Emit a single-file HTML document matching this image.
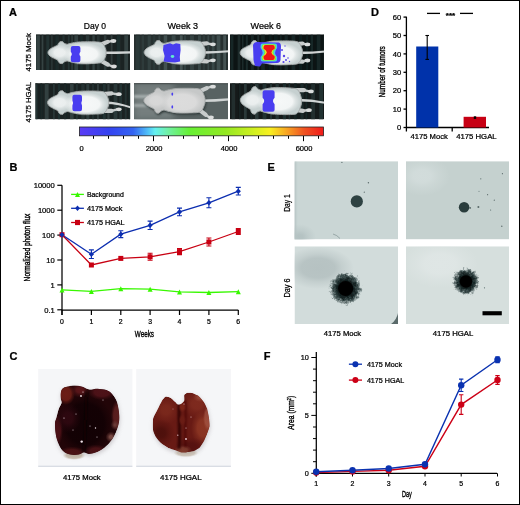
<!DOCTYPE html>
<html><head><meta charset="utf-8"><style>
html,body{margin:0;padding:0;background:#fff;}
svg{display:block;font-family:"Liberation Sans", Arial, Helvetica, sans-serif;}
text{stroke:#000;stroke-width:0.24px;}
</style></head><body>
<svg width="520" height="505" viewBox="0 0 520 505">
<defs>
<linearGradient id="cbar" x1="0" x2="1" y1="0" y2="0">
<stop offset="0" stop-color="#5a3cf5"/>
<stop offset="0.12" stop-color="#3442f0"/>
<stop offset="0.22" stop-color="#3464f2"/>
<stop offset="0.28" stop-color="#50c0f8"/>
<stop offset="0.31" stop-color="#64f0f0"/>
<stop offset="0.36" stop-color="#70f0a8"/>
<stop offset="0.45" stop-color="#66f034"/>
<stop offset="0.60" stop-color="#94e822"/>
<stop offset="0.72" stop-color="#d4f020"/>
<stop offset="0.78" stop-color="#f8f020"/>
<stop offset="0.85" stop-color="#f8a422"/>
<stop offset="0.92" stop-color="#f05422"/>
<stop offset="1" stop-color="#f01a1a"/>
</linearGradient>
<pattern id="stripes" patternUnits="userSpaceOnUse" width="6.5" height="10">
<rect width="6.5" height="10" fill="#1c2626"/>
<rect x="0.5" width="3" height="10" fill="#3e4c4c"/>
</pattern>
<filter id="b04" x="-10%" y="-10%" width="120%" height="120%"><feGaussianBlur stdDeviation="0.4"/></filter>
<filter id="b07" x="-10%" y="-10%" width="120%" height="120%"><feGaussianBlur stdDeviation="0.7 0.2"/></filter>
<filter id="b05" x="-10%" y="-10%" width="120%" height="120%"><feGaussianBlur stdDeviation="0.5"/></filter>
<filter id="b1" filterUnits="userSpaceOnUse" x="0" y="0" width="520" height="505"><feGaussianBlur stdDeviation="1"/></filter>
<filter id="b2" filterUnits="userSpaceOnUse" x="0" y="0" width="520" height="505"><feGaussianBlur stdDeviation="2"/></filter>
<filter id="b3" filterUnits="userSpaceOnUse" x="0" y="0" width="520" height="505"><feGaussianBlur stdDeviation="3"/></filter>
<filter id="spiky" x="-60%" y="-60%" width="220%" height="220%">
<feTurbulence type="fractalNoise" baseFrequency="0.35" numOctaves="2" seed="7" result="n"/>
<feDisplacementMap in="SourceGraphic" in2="n" scale="7" xChannelSelector="R" yChannelSelector="G" result="d"/>
<feGaussianBlur in="d" stdDeviation="0.45"/>
</filter>
<filter id="spiky2" x="-60%" y="-60%" width="220%" height="220%">
<feTurbulence type="fractalNoise" baseFrequency="0.35" numOctaves="2" seed="11" result="n"/>
<feDisplacementMap in="SourceGraphic" in2="n" scale="6" xChannelSelector="R" yChannelSelector="G" result="d"/>
<feGaussianBlur in="d" stdDeviation="0.45"/>
</filter>
<filter id="mottle" x="0" y="0" width="100%" height="100%">
<feTurbulence type="fractalNoise" baseFrequency="0.09" numOctaves="3" seed="4" result="n"/>
<feColorMatrix in="n" type="matrix" values="0 0 0 0 0.85  0 0 0 0 0.2  0 0 0 0 0.12  1.6 0 0 0 -0.75" result="c"/>
<feComposite in="c" in2="SourceGraphic" operator="in"/>
</filter>
<radialGradient id="halo1"><stop offset="0" stop-color="#050c0c"/><stop offset="0.55" stop-color="#142222"/><stop offset="0.75" stop-color="#2e4040" stop-opacity="0.9"/><stop offset="0.9" stop-color="#5a6a6a" stop-opacity="0.5"/><stop offset="1" stop-color="#8a9a9a" stop-opacity="0"/></radialGradient>
<radialGradient id="g0"><stop offset="0" stop-color="#f6f8f8" stop-opacity="1.0"/><stop offset="0.621" stop-color="#f6f8f8" stop-opacity="0.930"/><stop offset="0.763" stop-color="#f6f8f8" stop-opacity="0.500"/><stop offset="1" stop-color="#f6f8f8" stop-opacity="0"/></radialGradient><radialGradient id="g1"><stop offset="0" stop-color="#f6f8f8" stop-opacity="0.8"/><stop offset="0.448" stop-color="#f6f8f8" stop-opacity="0.744"/><stop offset="0.655" stop-color="#f6f8f8" stop-opacity="0.400"/><stop offset="1" stop-color="#f6f8f8" stop-opacity="0"/></radialGradient><radialGradient id="g2"><stop offset="0" stop-color="#f6f8f8" stop-opacity="1.0"/><stop offset="0.636" stop-color="#f6f8f8" stop-opacity="0.930"/><stop offset="0.773" stop-color="#f6f8f8" stop-opacity="0.500"/><stop offset="1" stop-color="#f6f8f8" stop-opacity="0"/></radialGradient><radialGradient id="g3"><stop offset="0" stop-color="#f6f8f8" stop-opacity="0.8"/><stop offset="0.467" stop-color="#f6f8f8" stop-opacity="0.744"/><stop offset="0.667" stop-color="#f6f8f8" stop-opacity="0.400"/><stop offset="1" stop-color="#f6f8f8" stop-opacity="0"/></radialGradient><radialGradient id="g4"><stop offset="0" stop-color="#f6f8f8" stop-opacity="1.0"/><stop offset="0.641" stop-color="#f6f8f8" stop-opacity="0.930"/><stop offset="0.776" stop-color="#f6f8f8" stop-opacity="0.500"/><stop offset="1" stop-color="#f6f8f8" stop-opacity="0"/></radialGradient><radialGradient id="g5"><stop offset="0" stop-color="#f6f8f8" stop-opacity="0.8"/><stop offset="0.475" stop-color="#f6f8f8" stop-opacity="0.744"/><stop offset="0.672" stop-color="#f6f8f8" stop-opacity="0.400"/><stop offset="1" stop-color="#f6f8f8" stop-opacity="0"/></radialGradient><radialGradient id="g6"><stop offset="0" stop-color="#f6f8f8" stop-opacity="1.0"/><stop offset="0.636" stop-color="#f6f8f8" stop-opacity="0.930"/><stop offset="0.773" stop-color="#f6f8f8" stop-opacity="0.500"/><stop offset="1" stop-color="#f6f8f8" stop-opacity="0"/></radialGradient><radialGradient id="g7"><stop offset="0" stop-color="#f6f8f8" stop-opacity="0.8"/><stop offset="0.467" stop-color="#f6f8f8" stop-opacity="0.744"/><stop offset="0.667" stop-color="#f6f8f8" stop-opacity="0.400"/><stop offset="1" stop-color="#f6f8f8" stop-opacity="0"/></radialGradient><radialGradient id="g8"><stop offset="0" stop-color="#dcdcdc" stop-opacity="1.0"/><stop offset="0.636" stop-color="#dcdcdc" stop-opacity="0.930"/><stop offset="0.773" stop-color="#dcdcdc" stop-opacity="0.500"/><stop offset="1" stop-color="#dcdcdc" stop-opacity="0"/></radialGradient><radialGradient id="g9"><stop offset="0" stop-color="#dcdcdc" stop-opacity="0.8"/><stop offset="0.467" stop-color="#dcdcdc" stop-opacity="0.744"/><stop offset="0.667" stop-color="#dcdcdc" stop-opacity="0.400"/><stop offset="1" stop-color="#dcdcdc" stop-opacity="0"/></radialGradient><radialGradient id="g10"><stop offset="0" stop-color="#f6f8f8" stop-opacity="1.0"/><stop offset="0.636" stop-color="#f6f8f8" stop-opacity="0.930"/><stop offset="0.773" stop-color="#f6f8f8" stop-opacity="0.500"/><stop offset="1" stop-color="#f6f8f8" stop-opacity="0"/></radialGradient><radialGradient id="g11"><stop offset="0" stop-color="#f6f8f8" stop-opacity="0.8"/><stop offset="0.467" stop-color="#f6f8f8" stop-opacity="0.744"/><stop offset="0.667" stop-color="#f6f8f8" stop-opacity="0.400"/><stop offset="1" stop-color="#f6f8f8" stop-opacity="0"/></radialGradient><radialGradient id="g12"><stop offset="0" stop-color="#b4c2c2" stop-opacity="1.0"/><stop offset="0.200" stop-color="#b4c2c2" stop-opacity="0.930"/><stop offset="0.500" stop-color="#b4c2c2" stop-opacity="0.500"/><stop offset="1" stop-color="#b4c2c2" stop-opacity="0"/></radialGradient><radialGradient id="g13"><stop offset="0" stop-color="#d2dcdb" stop-opacity="1.0"/><stop offset="0.314" stop-color="#d2dcdb" stop-opacity="0.930"/><stop offset="0.571" stop-color="#d2dcdb" stop-opacity="0.500"/><stop offset="1" stop-color="#d2dcdb" stop-opacity="0"/></radialGradient><radialGradient id="g14"><stop offset="0" stop-color="#b6c2c2" stop-opacity="1.0"/><stop offset="0.467" stop-color="#b6c2c2" stop-opacity="0.930"/><stop offset="0.667" stop-color="#b6c2c2" stop-opacity="0.500"/><stop offset="1" stop-color="#b6c2c2" stop-opacity="0"/></radialGradient><radialGradient id="g15"><stop offset="0" stop-color="#dfe6e5" stop-opacity="1.0"/><stop offset="0.411" stop-color="#dfe6e5" stop-opacity="0.930"/><stop offset="0.632" stop-color="#dfe6e5" stop-opacity="0.500"/><stop offset="1" stop-color="#dfe6e5" stop-opacity="0"/></radialGradient><radialGradient id="g16"><stop offset="0" stop-color="#a08868" stop-opacity="0.5"/><stop offset="0.663" stop-color="#a08868" stop-opacity="0.465"/><stop offset="0.789" stop-color="#a08868" stop-opacity="0.250"/><stop offset="1" stop-color="#a08868" stop-opacity="0"/></radialGradient><radialGradient id="g17"><stop offset="0" stop-color="#120104" stop-opacity="1.0"/><stop offset="0.680" stop-color="#120104" stop-opacity="0.930"/><stop offset="0.800" stop-color="#120104" stop-opacity="0.500"/><stop offset="1" stop-color="#120104" stop-opacity="0"/></radialGradient><radialGradient id="g18"><stop offset="0" stop-color="#6c1e16" stop-opacity="1.0"/><stop offset="0.564" stop-color="#6c1e16" stop-opacity="0.930"/><stop offset="0.727" stop-color="#6c1e16" stop-opacity="0.500"/><stop offset="1" stop-color="#6c1e16" stop-opacity="0"/></radialGradient><radialGradient id="g19"><stop offset="0" stop-color="#5a161a" stop-opacity="1.0"/><stop offset="0.360" stop-color="#5a161a" stop-opacity="0.930"/><stop offset="0.600" stop-color="#5a161a" stop-opacity="0.500"/><stop offset="1" stop-color="#5a161a" stop-opacity="0"/></radialGradient><radialGradient id="g20"><stop offset="0" stop-color="#4e1218" stop-opacity="1.0"/><stop offset="0.543" stop-color="#4e1218" stop-opacity="0.930"/><stop offset="0.714" stop-color="#4e1218" stop-opacity="0.500"/><stop offset="1" stop-color="#4e1218" stop-opacity="0"/></radialGradient><radialGradient id="g21"><stop offset="0" stop-color="#5a1e1e" stop-opacity="1.0"/><stop offset="0.600" stop-color="#5a1e1e" stop-opacity="0.930"/><stop offset="0.750" stop-color="#5a1e1e" stop-opacity="0.500"/><stop offset="1" stop-color="#5a1e1e" stop-opacity="0"/></radialGradient><radialGradient id="g22"><stop offset="0" stop-color="#7a4a44" stop-opacity="1.0"/><stop offset="0.289" stop-color="#7a4a44" stop-opacity="0.930"/><stop offset="0.556" stop-color="#7a4a44" stop-opacity="0.500"/><stop offset="1" stop-color="#7a4a44" stop-opacity="0"/></radialGradient><radialGradient id="g23"><stop offset="0" stop-color="#6a3a36" stop-opacity="1.0"/><stop offset="0.216" stop-color="#6a3a36" stop-opacity="0.930"/><stop offset="0.510" stop-color="#6a3a36" stop-opacity="0.500"/><stop offset="1" stop-color="#6a3a36" stop-opacity="0"/></radialGradient><radialGradient id="g24"><stop offset="0" stop-color="#4a1016" stop-opacity="1.0"/><stop offset="0.600" stop-color="#4a1016" stop-opacity="0.930"/><stop offset="0.750" stop-color="#4a1016" stop-opacity="0.500"/><stop offset="1" stop-color="#4a1016" stop-opacity="0"/></radialGradient><radialGradient id="g25"><stop offset="0" stop-color="#4a1214" stop-opacity="1.0"/><stop offset="0.543" stop-color="#4a1214" stop-opacity="0.930"/><stop offset="0.714" stop-color="#4a1214" stop-opacity="0.500"/><stop offset="1" stop-color="#4a1214" stop-opacity="0"/></radialGradient><radialGradient id="g26"><stop offset="0" stop-color="#4a1216" stop-opacity="1.0"/><stop offset="0.467" stop-color="#4a1216" stop-opacity="0.930"/><stop offset="0.667" stop-color="#4a1216" stop-opacity="0.500"/><stop offset="1" stop-color="#4a1216" stop-opacity="0"/></radialGradient><radialGradient id="g27"><stop offset="0" stop-color="#2e0810" stop-opacity="1.0"/><stop offset="0.360" stop-color="#2e0810" stop-opacity="0.930"/><stop offset="0.600" stop-color="#2e0810" stop-opacity="0.500"/><stop offset="1" stop-color="#2e0810" stop-opacity="0"/></radialGradient><radialGradient id="g28"><stop offset="0" stop-color="#a08868" stop-opacity="0.4"/><stop offset="0.690" stop-color="#a08868" stop-opacity="0.372"/><stop offset="0.806" stop-color="#a08868" stop-opacity="0.200"/><stop offset="1" stop-color="#a08868" stop-opacity="0"/></radialGradient><radialGradient id="g29"><stop offset="0" stop-color="#7a281c" stop-opacity="1.0"/><stop offset="0.314" stop-color="#7a281c" stop-opacity="0.930"/><stop offset="0.571" stop-color="#7a281c" stop-opacity="0.500"/><stop offset="1" stop-color="#7a281c" stop-opacity="0"/></radialGradient><radialGradient id="g30"><stop offset="0" stop-color="#7e2a1e" stop-opacity="1.0"/><stop offset="0.360" stop-color="#7e2a1e" stop-opacity="0.930"/><stop offset="0.600" stop-color="#7e2a1e" stop-opacity="0.500"/><stop offset="1" stop-color="#7e2a1e" stop-opacity="0"/></radialGradient><radialGradient id="g31"><stop offset="0" stop-color="#8a3422" stop-opacity="1.0"/><stop offset="0.467" stop-color="#8a3422" stop-opacity="0.930"/><stop offset="0.667" stop-color="#8a3422" stop-opacity="0.500"/><stop offset="1" stop-color="#8a3422" stop-opacity="0"/></radialGradient><radialGradient id="g32"><stop offset="0" stop-color="#4e100c" stop-opacity="1.0"/><stop offset="0.314" stop-color="#4e100c" stop-opacity="0.930"/><stop offset="0.571" stop-color="#4e100c" stop-opacity="0.500"/><stop offset="1" stop-color="#4e100c" stop-opacity="0"/></radialGradient><radialGradient id="g33"><stop offset="0" stop-color="#561210" stop-opacity="1.0"/><stop offset="0.400" stop-color="#561210" stop-opacity="0.930"/><stop offset="0.625" stop-color="#561210" stop-opacity="0.500"/><stop offset="1" stop-color="#561210" stop-opacity="0"/></radialGradient><radialGradient id="g34"><stop offset="0" stop-color="#a85a48" stop-opacity="0.7"/><stop offset="0.631" stop-color="#a85a48" stop-opacity="0.651"/><stop offset="0.769" stop-color="#a85a48" stop-opacity="0.350"/><stop offset="1" stop-color="#a85a48" stop-opacity="0"/></radialGradient><radialGradient id="g35"><stop offset="0" stop-color="#a85a48" stop-opacity="0.6"/><stop offset="0.314" stop-color="#a85a48" stop-opacity="0.558"/><stop offset="0.571" stop-color="#a85a48" stop-opacity="0.300"/><stop offset="1" stop-color="#a85a48" stop-opacity="0"/></radialGradient><radialGradient id="g36"><stop offset="0" stop-color="#a06048" stop-opacity="0.5"/><stop offset="0.467" stop-color="#a06048" stop-opacity="0.465"/><stop offset="0.667" stop-color="#a06048" stop-opacity="0.250"/><stop offset="1" stop-color="#a06048" stop-opacity="0"/></radialGradient><radialGradient id="g37"><stop offset="0" stop-color="#7a2418" stop-opacity="1.0"/><stop offset="0.418" stop-color="#7a2418" stop-opacity="0.930"/><stop offset="0.636" stop-color="#7a2418" stop-opacity="0.500"/><stop offset="1" stop-color="#7a2418" stop-opacity="0"/></radialGradient><radialGradient id="g38"><stop offset="0" stop-color="#6a1c14" stop-opacity="1.0"/><stop offset="0.467" stop-color="#6a1c14" stop-opacity="0.930"/><stop offset="0.667" stop-color="#6a1c14" stop-opacity="0.500"/><stop offset="1" stop-color="#6a1c14" stop-opacity="0"/></radialGradient>
</defs>
<rect x="0.5" y="0.5" width="519" height="504" fill="#fff" stroke="#000" stroke-width="1"/>
<text x="9" y="15.7" font-size="11" text-anchor="start" font-weight="bold" fill="#000" >A</text>
<text x="83.8" y="29.2" font-size="9.8" text-anchor="start" font-weight="normal" fill="#000" textLength="22.3" lengthAdjust="spacingAndGlyphs" >Day 0</text>
<text x="167.5" y="29.2" font-size="9.8" text-anchor="start" font-weight="normal" fill="#000" textLength="30.5" lengthAdjust="spacingAndGlyphs" >Week 3</text>
<text x="250.6" y="29.2" font-size="9.8" text-anchor="start" font-weight="normal" fill="#000" textLength="30.5" lengthAdjust="spacingAndGlyphs" >Week 6</text>
<text transform="translate(31.1,52.4) rotate(-90)" x="0" y="0" font-size="7.7" text-anchor="middle" fill="#000" textLength="38.4" lengthAdjust="spacingAndGlyphs" >4175 Mock</text>
<text transform="translate(31.1,102.2) rotate(-90)" x="0" y="0" font-size="7.7" text-anchor="middle" fill="#000" textLength="40.6" lengthAdjust="spacingAndGlyphs" >4175 HGAL</text>
<clipPath id="c36_34"><rect x="36" y="34.5" width="94" height="35.5"/></clipPath>
<g clip-path="url(#c36_34)">
<rect x="36" y="34.5" width="94" height="35.5" fill="#1a2222"/><g filter="url(#b07)"><rect x="36.3" y="34.5" width="3.6" height="35.5" fill="rgb(52,66,66)"/><rect x="41.6" y="34.5" width="1.8" height="35.5" fill="rgb(52,66,66)"/><rect x="46.2" y="34.5" width="3.1" height="35.5" fill="rgb(34,48,48)"/><rect x="51.1" y="34.5" width="1.6" height="35.5" fill="rgb(40,54,54)"/><rect x="55.5" y="34.5" width="3.4" height="35.5" fill="rgb(28,42,42)"/><rect x="62.5" y="34.5" width="2.2" height="35.5" fill="rgb(35,49,49)"/><rect x="67.9" y="34.5" width="1.8" height="35.5" fill="rgb(38,52,52)"/><rect x="71.3" y="34.5" width="1.6" height="35.5" fill="rgb(45,59,59)"/><rect x="74.4" y="34.5" width="3.7" height="35.5" fill="rgb(49,63,63)"/><rect x="80.2" y="34.5" width="2.6" height="35.5" fill="rgb(28,42,42)"/><rect x="85.9" y="34.5" width="3.4" height="35.5" fill="rgb(43,57,57)"/><rect x="92.4" y="34.5" width="2.4" height="35.5" fill="rgb(49,63,63)"/><rect x="97.0" y="34.5" width="2.6" height="35.5" fill="rgb(37,51,51)"/><rect x="103.9" y="34.5" width="2.5" height="35.5" fill="rgb(45,59,59)"/><rect x="110.7" y="34.5" width="1.8" height="35.5" fill="rgb(48,62,62)"/><rect x="116.9" y="34.5" width="3.6" height="35.5" fill="rgb(31,45,45)"/><rect x="124.3" y="34.5" width="3.7" height="35.5" fill="rgb(50,64,64)"/></g>
<g filter="url(#b04)">
<path d="M102.2,51.4 Q116.6,51.5 131,51.3 L131,53.4 Q116.6,53.9 102.2,54.1Z" fill="#d0d4d4"/>
<path d="M100.3,44.8 L107.6,41.9" stroke="#c8cccc" stroke-width="4.2" fill="none" stroke-linecap="round"/>
<path d="M107.6,41.9 L112.0,41.0" stroke="#c8cccc" stroke-width="2.4" fill="none" stroke-linecap="round"/>
<ellipse cx="113.5" cy="41.0" rx="2.8" ry="1.9" fill="#dadcdc"/>
<path d="M100.3,60.4 L107.9,64.6" stroke="#c8cccc" stroke-width="4.2" fill="none" stroke-linecap="round"/>
<path d="M107.9,64.6 L112.5,66.5" stroke="#c8cccc" stroke-width="2.4" fill="none" stroke-linecap="round"/>
<ellipse cx="114.0" cy="66.5" rx="2.8" ry="1.9" fill="#dadcdc"/>
<path d="M48.1,51.6 C48.3,51.2 49.4,49.6 50.0,49.2 C50.6,48.7 53.0,47.6 53.8,47.2 C54.6,46.8 57.1,45.6 57.6,45.2 C58.1,44.9 58.3,43.6 58.5,43.3 C58.8,42.9 59.6,42.0 60.0,41.8 C60.4,41.7 61.9,41.5 62.4,41.6 C62.8,41.8 63.8,43.0 64.2,43.3 C64.7,43.6 66.4,44.3 67.1,44.3 C67.8,44.3 69.8,43.5 70.9,43.3 C72.0,43.1 76.6,42.2 78.5,42.0 C80.4,41.9 88.0,41.8 89.9,41.8 C91.8,41.8 96.4,41.9 97.5,42.0 C98.6,42.1 100.7,42.3 101.3,42.6 C101.9,42.9 103.3,44.2 103.7,44.8 C104.1,45.3 105.1,47.6 105.3,48.2 C105.5,48.8 106.0,50.0 106.0,50.6 C106.1,51.3 106.1,53.9 106.0,54.6 C106.0,55.2 105.5,56.4 105.3,57.0 C105.1,57.6 104.1,59.9 103.7,60.4 C103.3,61.0 101.9,62.3 101.3,62.6 C100.7,62.9 98.6,63.1 97.5,63.2 C96.4,63.3 91.8,63.4 89.9,63.4 C88.0,63.4 80.4,63.3 78.5,63.2 C76.6,63.0 72.0,62.1 70.9,61.9 C69.8,61.7 67.8,60.9 67.1,60.9 C66.4,60.9 64.7,61.6 64.2,61.9 C63.8,62.2 62.8,63.4 62.4,63.6 C61.9,63.7 60.4,63.5 60.0,63.4 C59.6,63.2 58.8,62.3 58.5,61.9 C58.3,61.6 58.1,60.3 57.6,60.0 C57.1,59.6 54.6,58.4 53.8,58.0 C53.0,57.6 50.6,56.5 50.0,56.0 C49.4,55.6 48.3,54.0 48.1,53.6 C47.9,53.1 47.9,52.1 48.1,51.6Z" fill="#c6d0d0" stroke="#a4a8a8" stroke-width="1.0"/>
</g>
<ellipse cx="84.2" cy="54.1" rx="21.10" ry="11.40" fill="url(#g0)"/>
<ellipse cx="59.5" cy="52.6" rx="11.60" ry="8.40" fill="url(#g1)"/>
<path d="M70.8,48.1 Q70.8,46.1 72.8,46.1 L78.4,46.1 Q80.4,46.1 80.4,48.1 L80.4,51.8 Q78.4,54.2 80.4,56.6 L80.4,60.3 Q80.4,62.3 78.4,62.3 L72.8,62.3 Q70.8,62.3 70.8,60.3 L70.8,56.6 Q72.8,54.2 70.8,51.8Z" fill="#4a3ef0" filter="url(#b04)"/>
</g>
<rect x="36" y="34.5" width="94" height="0.8" fill="#0a0e0e" opacity="0.7"/>
<clipPath id="c134_34"><rect x="134" y="34.5" width="94" height="35.5"/></clipPath>
<g clip-path="url(#c134_34)">
<rect x="134" y="34.5" width="94" height="35.5" fill="#263030"/><g filter="url(#b07)"><rect x="135.9" y="34.5" width="3.9" height="35.5" fill="rgb(41,55,55)"/><rect x="141.6" y="34.5" width="2.4" height="35.5" fill="rgb(45,59,59)"/><rect x="147.7" y="34.5" width="3.2" height="35.5" fill="rgb(49,63,63)"/><rect x="153.1" y="34.5" width="2.0" height="35.5" fill="rgb(41,55,55)"/><rect x="158.4" y="34.5" width="1.9" height="35.5" fill="rgb(53,67,67)"/><rect x="163.7" y="34.5" width="3.5" height="35.5" fill="rgb(67,81,81)"/><rect x="171.7" y="34.5" width="3.9" height="35.5" fill="rgb(57,71,71)"/><rect x="179.9" y="34.5" width="2.8" height="35.5" fill="rgb(68,82,82)"/><rect x="184.2" y="34.5" width="1.6" height="35.5" fill="rgb(54,68,68)"/><rect x="190.1" y="34.5" width="3.8" height="35.5" fill="rgb(53,67,67)"/><rect x="198.0" y="34.5" width="2.8" height="35.5" fill="rgb(57,71,71)"/><rect x="202.9" y="34.5" width="2.1" height="35.5" fill="rgb(45,59,59)"/><rect x="207.4" y="34.5" width="1.8" height="35.5" fill="rgb(56,70,70)"/><rect x="211.8" y="34.5" width="2.8" height="35.5" fill="rgb(57,71,71)"/><rect x="216.7" y="34.5" width="3.7" height="35.5" fill="rgb(65,79,79)"/><rect x="223.2" y="34.5" width="2.8" height="35.5" fill="rgb(69,83,83)"/></g>
<g filter="url(#b04)">
<path d="M201.3,51.199999999999996 Q215.2,51.3 229,50.2 L229,52.300000000000004 Q215.2,53.699999999999996 201.3,53.9Z" fill="#d0d4d4"/>
<path d="M199.3,44.0 L206.8,43.4" stroke="#c8cccc" stroke-width="4.2" fill="none" stroke-linecap="round"/>
<path d="M206.8,43.4 L211.5,44.3" stroke="#c8cccc" stroke-width="2.4" fill="none" stroke-linecap="round"/>
<ellipse cx="213.0" cy="44.3" rx="2.8" ry="1.9" fill="#dadcdc"/>
<path d="M199.3,60.8 L206.8,61.3" stroke="#c8cccc" stroke-width="4.2" fill="none" stroke-linecap="round"/>
<path d="M206.8,61.3 L211.5,60.3" stroke="#c8cccc" stroke-width="2.4" fill="none" stroke-linecap="round"/>
<ellipse cx="213.0" cy="60.3" rx="2.8" ry="1.9" fill="#dadcdc"/>
<path d="M144.3,51.4 C144.5,50.9 145.7,49.2 146.3,48.7 C146.9,48.3 149.5,47.0 150.3,46.6 C151.1,46.2 153.8,44.9 154.3,44.5 C154.8,44.1 155.1,42.8 155.3,42.4 C155.6,42.1 156.4,41.0 156.8,40.8 C157.2,40.7 158.9,40.5 159.3,40.6 C159.8,40.8 160.8,42.1 161.3,42.4 C161.8,42.7 163.6,43.5 164.3,43.5 C165.0,43.5 167.1,42.7 168.3,42.4 C169.5,42.2 174.3,41.2 176.3,41.1 C178.3,40.9 186.3,40.8 188.3,40.8 C190.3,40.8 195.1,41.0 196.3,41.1 C197.5,41.1 199.7,41.4 200.3,41.7 C201.0,42.0 202.4,43.4 202.8,44.0 C203.2,44.6 204.2,47.0 204.5,47.7 C204.8,48.3 205.2,49.6 205.3,50.3 C205.4,51.0 205.4,53.8 205.3,54.5 C205.2,55.2 204.8,56.5 204.5,57.1 C204.2,57.8 203.2,60.2 202.8,60.8 C202.4,61.4 201.0,62.8 200.3,63.1 C199.7,63.4 197.5,63.7 196.3,63.7 C195.1,63.8 190.3,64.0 188.3,64.0 C186.3,64.0 178.3,63.9 176.3,63.7 C174.3,63.6 169.5,62.6 168.3,62.4 C167.1,62.1 165.0,61.3 164.3,61.3 C163.6,61.3 161.8,62.1 161.3,62.4 C160.8,62.7 159.8,64.0 159.3,64.2 C158.9,64.3 157.2,64.1 156.8,64.0 C156.4,63.8 155.6,62.7 155.3,62.4 C155.1,62.0 154.8,60.7 154.3,60.3 C153.8,59.9 151.1,58.6 150.3,58.2 C149.5,57.8 146.9,56.5 146.3,56.1 C145.7,55.6 144.5,53.9 144.3,53.4 C144.1,53.0 144.1,51.8 144.3,51.4Z" fill="#c6d0d0" stroke="#a4a8a8" stroke-width="1.0"/>
</g>
<ellipse cx="182.3" cy="53.9" rx="22.00" ry="11.80" fill="url(#g2)"/>
<ellipse cx="156.3" cy="52.4" rx="12.00" ry="8.70" fill="url(#g3)"/>
<path d="M163.5,45 L170,43.3 L173,44.6 L176,43.2 L180.3,44 L180.6,50 L179.8,57 L180.2,61.5 L175,62.4 L168,62.1 L163.6,61.6 L164.6,56 L163,50 Z" fill="#4a3ef0" filter="url(#b04)"/>
<ellipse cx="172.5" cy="56.5" rx="1.8" ry="1.4" fill="#5ee8d0" filter="url(#b04)"/>
</g>
<rect x="134" y="34.5" width="94" height="0.8" fill="#0a0e0e" opacity="0.7"/>
<clipPath id="c230_34"><rect x="230" y="34.5" width="94" height="35.5"/></clipPath>
<g clip-path="url(#c230_34)">
<rect x="230" y="34.5" width="94" height="35.5" fill="#0c1414"/><g filter="url(#b07)"><rect x="230.5" y="34.5" width="2.9" height="35.5" fill="rgb(23,37,37)"/><rect x="237.6" y="34.5" width="2.7" height="35.5" fill="rgb(30,44,44)"/><rect x="242.0" y="34.5" width="1.5" height="35.5" fill="rgb(27,41,41)"/><rect x="245.8" y="34.5" width="2.1" height="35.5" fill="rgb(27,41,41)"/><rect x="251.0" y="34.5" width="2.9" height="35.5" fill="rgb(24,38,38)"/><rect x="257.3" y="34.5" width="1.9" height="35.5" fill="rgb(32,46,46)"/><rect x="261.1" y="34.5" width="3.8" height="35.5" fill="rgb(24,38,38)"/><rect x="268.6" y="34.5" width="3.2" height="35.5" fill="rgb(14,28,28)"/><rect x="273.8" y="34.5" width="3.9" height="35.5" fill="rgb(13,27,27)"/><rect x="280.1" y="34.5" width="1.6" height="35.5" fill="rgb(20,34,34)"/><rect x="284.6" y="34.5" width="3.3" height="35.5" fill="rgb(24,38,38)"/><rect x="291.5" y="34.5" width="3.8" height="35.5" fill="rgb(24,38,38)"/><rect x="299.0" y="34.5" width="2.9" height="35.5" fill="rgb(16,30,30)"/><rect x="306.1" y="34.5" width="1.7" height="35.5" fill="rgb(16,30,30)"/><rect x="310.8" y="34.5" width="2.1" height="35.5" fill="rgb(25,39,39)"/><rect x="316.8" y="34.5" width="3.6" height="35.5" fill="rgb(25,39,39)"/><rect x="323.5" y="34.5" width="2.5" height="35.5" fill="rgb(23,37,37)"/></g>
<g filter="url(#b04)">
<path d="M298.4,51.599999999999994 Q311.7,51.699999999999996 325,50.4 L325,52.5 Q311.7,54.099999999999994 298.4,54.3Z" fill="#d0d4d4"/>
<path d="M296.4,44.2 L302.5,43.5" stroke="#c8cccc" stroke-width="4.2" fill="none" stroke-linecap="round"/>
<path d="M302.5,43.5 L306.0,44.4" stroke="#c8cccc" stroke-width="2.4" fill="none" stroke-linecap="round"/>
<ellipse cx="307.5" cy="44.4" rx="2.8" ry="1.9" fill="#dadcdc"/>
<path d="M296.4,61.4 L302.5,61.7" stroke="#c8cccc" stroke-width="4.2" fill="none" stroke-linecap="round"/>
<path d="M302.5,61.7 L306.0,60.5" stroke="#c8cccc" stroke-width="2.4" fill="none" stroke-linecap="round"/>
<ellipse cx="307.5" cy="60.5" rx="2.8" ry="1.9" fill="#dadcdc"/>
<path d="M240.3,51.7 C240.5,51.2 241.7,49.5 242.3,49.0 C243.0,48.5 245.6,47.3 246.4,46.9 C247.2,46.4 250.0,45.1 250.5,44.7 C251.0,44.3 251.3,42.9 251.5,42.5 C251.8,42.2 252.6,41.1 253.1,40.9 C253.5,40.7 255.1,40.5 255.6,40.7 C256.1,40.9 257.1,42.2 257.6,42.5 C258.1,42.8 260.0,43.6 260.7,43.6 C261.4,43.6 263.6,42.8 264.8,42.5 C266.0,42.3 270.9,41.3 272.9,41.1 C275.0,41.0 283.1,40.9 285.2,40.9 C287.2,40.9 292.1,41.0 293.3,41.1 C294.6,41.2 296.8,41.5 297.4,41.8 C298.1,42.1 299.5,43.5 300.0,44.2 C300.4,44.8 301.4,47.3 301.7,47.9 C302.0,48.6 302.4,49.9 302.5,50.6 C302.6,51.3 302.6,54.3 302.5,55.0 C302.4,55.7 302.0,57.0 301.7,57.7 C301.4,58.3 300.4,60.8 300.0,61.4 C299.5,62.1 298.1,63.5 297.4,63.8 C296.8,64.1 294.6,64.4 293.3,64.5 C292.1,64.6 287.2,64.7 285.2,64.7 C283.1,64.7 275.0,64.6 272.9,64.5 C270.9,64.3 266.0,63.3 264.8,63.1 C263.6,62.8 261.4,62.0 260.7,62.0 C260.0,62.0 258.1,62.8 257.6,63.1 C257.1,63.4 256.1,64.7 255.6,64.9 C255.1,65.1 253.5,64.9 253.1,64.7 C252.6,64.5 251.8,63.4 251.5,63.1 C251.3,62.7 251.0,61.3 250.5,60.9 C250.0,60.5 247.2,59.2 246.4,58.7 C245.6,58.3 243.0,57.1 242.3,56.6 C241.7,56.1 240.5,54.4 240.3,53.9 C240.1,53.4 240.1,52.2 240.3,51.7Z" fill="#c6d0d0" stroke="#a4a8a8" stroke-width="1.0"/>
</g>
<ellipse cx="279.1" cy="54.3" rx="22.30" ry="12.00" fill="url(#g4)"/>
<ellipse cx="252.5" cy="52.8" rx="12.20" ry="8.90" fill="url(#g5)"/>
<path d="M253,45 Q254,42 257,42 L279,42.5 Q281,43 281,46 L280.5,60 Q280,63 277,63 L262,63.5 L260,66.5 L255,66 L253.5,60 Z" fill="#4a3ef0" filter="url(#b04)"/>
<circle cx="282" cy="50" r="1" fill="#5a48e8"/><circle cx="284" cy="56" r="1.2" fill="#5a48e8"/><circle cx="286" cy="60" r="1" fill="#5a48e8"/><circle cx="283.5" cy="62" r="1.1" fill="#5a48e8"/><circle cx="288" cy="58" r="0.8" fill="#5a48e8"/><circle cx="285" cy="46" r="0.7" fill="#5a48e8"/><circle cx="289.5" cy="61.5" r="0.7" fill="#5a48e8"/>
<path d="M260.6,45.6 Q260.6,43.6 262.6,43.6 L275.1,43.6 Q277.1,43.6 277.1,45.6 L277.1,48.0 Q273.1,52.5 277.1,57.0 L277.1,59.4 Q277.1,61.4 275.1,61.4 L262.6,61.4 Q260.6,61.4 260.6,59.4 L260.6,57.0 Q264.6,52.5 260.6,48.0Z" fill="#48c8f0" filter="url(#b04)"/>
<path d="M261.8,46.3 Q261.8,44.3 263.8,44.3 L274.0,44.3 Q276.0,44.3 276.0,46.3 L276.0,48.4 Q271.0,52.5 276.0,56.6 L276.0,58.7 Q276.0,60.7 274.0,60.7 L263.8,60.7 Q261.8,60.7 261.8,58.7 L261.8,56.6 Q266.8,52.5 261.8,48.4Z" fill="#70f048" filter="url(#b04)"/>
<path d="M262.6,46.7 Q262.6,44.7 264.6,44.7 L273.2,44.7 Q275.2,44.7 275.2,46.7 L275.2,48.6 Q269.4,52.5 275.2,56.4 L275.2,58.3 Q275.2,60.3 273.2,60.3 L264.6,60.3 Q262.6,60.3 262.6,58.3 L262.6,56.4 Q268.4,52.5 262.6,48.6Z" fill="#f0f020" filter="url(#b04)"/>
<path d="M263.5,47.0 Q263.5,45.0 265.5,45.0 L272.7,45.0 Q274.7,45.0 274.7,47.0 L274.7,48.8 Q268.1,52.5 274.7,56.2 L274.7,58.0 Q274.7,60.0 272.7,60.0 L265.5,60.0 Q263.5,60.0 263.5,58.0 L263.5,56.2 Q270.1,52.5 263.5,48.8Z" fill="#f01414" filter="url(#b04)"/>
</g>
<rect x="230" y="34.5" width="94" height="0.8" fill="#0a0e0e" opacity="0.7"/>
<clipPath id="c35_83"><rect x="35.2" y="83.3" width="95" height="36.1"/></clipPath>
<g clip-path="url(#c35_83)">
<rect x="35.2" y="83.3" width="95" height="36.1" fill="#1a2222"/><g filter="url(#b07)"><rect x="35.7" y="83.3" width="1.8" height="36.1" fill="rgb(38,52,52)"/><rect x="40.4" y="83.3" width="1.7" height="36.1" fill="rgb(26,40,40)"/><rect x="44.8" y="83.3" width="3.8" height="36.1" fill="rgb(51,65,65)"/><rect x="53.1" y="83.3" width="1.6" height="36.1" fill="rgb(42,56,56)"/><rect x="57.8" y="83.3" width="2.2" height="36.1" fill="rgb(31,45,45)"/><rect x="64.0" y="83.3" width="2.2" height="36.1" fill="rgb(26,40,40)"/><rect x="70.1" y="83.3" width="3.5" height="36.1" fill="rgb(51,65,65)"/><rect x="76.0" y="83.3" width="1.9" height="36.1" fill="rgb(35,49,49)"/><rect x="81.3" y="83.3" width="3.3" height="36.1" fill="rgb(37,51,51)"/><rect x="86.3" y="83.3" width="3.0" height="36.1" fill="rgb(47,61,61)"/><rect x="92.0" y="83.3" width="2.1" height="36.1" fill="rgb(33,47,47)"/><rect x="97.1" y="83.3" width="1.7" height="36.1" fill="rgb(52,66,66)"/><rect x="102.9" y="83.3" width="2.9" height="36.1" fill="rgb(35,49,49)"/><rect x="107.3" y="83.3" width="2.2" height="36.1" fill="rgb(48,62,62)"/><rect x="113.7" y="83.3" width="3.6" height="36.1" fill="rgb(42,56,56)"/><rect x="119.4" y="83.3" width="2.6" height="36.1" fill="rgb(35,49,49)"/><rect x="124.7" y="83.3" width="1.9" height="36.1" fill="rgb(35,49,49)"/><rect x="128.9" y="83.3" width="3.5" height="36.1" fill="rgb(28,42,42)"/></g>
<g filter="url(#b04)">
<path d="M104.6,101.39999999999999 Q117.8,101.5 131,106.5 L131,108.6 Q117.8,103.89999999999999 104.6,104.1Z" fill="#d0d4d4"/>
<path d="M102.6,94.2 L111.5,93.4" stroke="#c8cccc" stroke-width="4.2" fill="none" stroke-linecap="round"/>
<path d="M111.5,93.4 L117.3,94.2" stroke="#c8cccc" stroke-width="2.4" fill="none" stroke-linecap="round"/>
<ellipse cx="118.8" cy="94.2" rx="2.8" ry="1.9" fill="#dadcdc"/>
<path d="M102.6,111.0 L111.5,110.9" stroke="#c8cccc" stroke-width="4.2" fill="none" stroke-linecap="round"/>
<path d="M111.5,110.9 L117.3,109.3" stroke="#c8cccc" stroke-width="2.4" fill="none" stroke-linecap="round"/>
<ellipse cx="118.8" cy="109.3" rx="2.8" ry="1.9" fill="#dadcdc"/>
<path d="M47.6,101.5 C47.8,101.1 49.0,99.4 49.6,98.9 C50.2,98.5 52.8,97.2 53.6,96.8 C54.4,96.4 57.1,95.1 57.6,94.7 C58.1,94.3 58.4,93.0 58.6,92.6 C58.9,92.3 59.7,91.2 60.1,91.0 C60.5,90.9 62.2,90.7 62.6,90.8 C63.0,91.0 64.1,92.3 64.6,92.6 C65.1,92.9 66.9,93.7 67.6,93.7 C68.3,93.7 70.4,92.9 71.6,92.6 C72.8,92.4 77.6,91.4 79.6,91.3 C81.6,91.1 89.6,91.0 91.6,91.0 C93.6,91.0 98.4,91.2 99.6,91.3 C100.8,91.3 102.9,91.6 103.6,91.9 C104.2,92.2 105.7,93.6 106.1,94.2 C106.5,94.8 107.6,97.2 107.8,97.9 C108.1,98.5 108.5,99.8 108.6,100.5 C108.7,101.2 108.7,104.0 108.6,104.7 C108.5,105.4 108.1,106.7 107.8,107.3 C107.6,108.0 106.5,110.4 106.1,111.0 C105.7,111.6 104.2,113.0 103.6,113.3 C102.9,113.6 100.8,113.9 99.6,113.9 C98.4,114.0 93.6,114.1 91.6,114.1 C89.6,114.1 81.6,114.1 79.6,113.9 C77.6,113.8 72.8,112.8 71.6,112.6 C70.4,112.3 68.3,111.5 67.6,111.5 C66.9,111.5 65.1,112.3 64.6,112.6 C64.1,112.9 63.0,114.2 62.6,114.4 C62.2,114.5 60.5,114.3 60.1,114.1 C59.7,114.0 58.9,112.9 58.6,112.6 C58.4,112.2 58.1,110.9 57.6,110.5 C57.1,110.1 54.4,108.8 53.6,108.4 C52.8,108.0 50.2,106.7 49.6,106.3 C49.0,105.8 47.8,104.1 47.6,103.6 C47.4,103.2 47.4,102.0 47.6,101.5Z" fill="#c6d0d0" stroke="#a4a8a8" stroke-width="1.0"/>
</g>
<ellipse cx="85.6" cy="104.1" rx="22.00" ry="11.80" fill="url(#g6)"/>
<ellipse cx="59.6" cy="102.6" rx="12.00" ry="8.70" fill="url(#g7)"/>
<path d="M72.4,96.7 Q72.4,94.7 74.4,94.7 L80.0,94.7 Q82.0,94.7 82.0,96.7 L82.0,100.5 Q80.6,103.0 82.0,105.5 L82.0,109.3 Q82.0,111.3 80.0,111.3 L74.4,111.3 Q72.4,111.3 72.4,109.3 L72.4,105.5 Q73.8,103.0 72.4,100.5Z" fill="#4a3ef0" filter="url(#b04)"/>
</g>
<rect x="35.2" y="83.3" width="95" height="0.8" fill="#0a0e0e" opacity="0.7"/>
<clipPath id="c134_83"><rect x="134" y="83.3" width="94" height="36.1"/></clipPath>
<g clip-path="url(#c134_83)">
<rect x="134" y="83.3" width="94" height="36.1" fill="#586262"/><rect x="134" y="83.3" width="40" height="36.1" fill="#747e7e" filter="url(#b3)"/><rect x="134" y="95" width="30" height="3" fill="#a8b0b0" filter="url(#b1)"/><rect x="134" y="104" width="25" height="3" fill="#a0a8a8" filter="url(#b1)"/>
<path d="M144.0,99.5 C144.2,99.0 145.4,97.2 146.0,96.7 C146.6,96.2 149.2,94.9 150.0,94.4 C150.8,94.0 153.5,92.6 154.0,92.2 C154.5,91.8 154.8,90.4 155.0,90.0 C155.2,89.6 156.1,88.5 156.5,88.3 C156.9,88.1 158.6,87.9 159.0,88.1 C159.4,88.2 160.5,89.7 161.0,90.0 C161.5,90.3 163.3,91.1 164.0,91.1 C164.7,91.1 166.8,90.2 168.0,90.0 C169.2,89.7 174.0,88.7 176.0,88.5 C178.0,88.3 186.0,88.3 188.0,88.3 C190.0,88.3 194.8,88.4 196.0,88.5 C197.2,88.6 199.3,88.9 200.0,89.2 C200.7,89.5 202.1,91.0 202.5,91.6 C202.9,92.3 203.9,94.9 204.2,95.6 C204.4,96.2 204.9,97.6 205.0,98.4 C205.1,99.1 205.1,102.1 205.0,102.8 C204.9,103.6 204.4,105.0 204.2,105.6 C203.9,106.3 202.9,108.9 202.5,109.6 C202.1,110.2 200.7,111.7 200.0,112.0 C199.3,112.3 197.2,112.6 196.0,112.7 C194.8,112.8 190.0,112.9 188.0,112.9 C186.0,112.9 178.0,112.9 176.0,112.7 C174.0,112.5 169.2,111.5 168.0,111.2 C166.8,111.0 164.7,110.1 164.0,110.1 C163.3,110.1 161.5,110.9 161.0,111.2 C160.5,111.5 159.4,113.0 159.0,113.1 C158.6,113.3 156.9,113.1 156.5,112.9 C156.1,112.7 155.2,111.6 155.0,111.2 C154.8,110.8 154.5,109.4 154.0,109.0 C153.5,108.6 150.8,107.2 150.0,106.8 C149.2,106.3 146.6,105.0 146.0,104.5 C145.4,104.0 144.2,102.2 144.0,101.7 C143.8,101.2 143.8,100.0 144.0,99.5Z" fill="#283030" transform="translate(0.8,1.6)" filter="url(#b1)"/>
<g filter="url(#b04)">
<path d="M201.0,99.39999999999999 Q215.0,99.5 229,98.3 L229,100.39999999999999 Q215.0,101.89999999999999 201.0,102.1Z" fill="#d0d4d4"/>
<path d="M199.0,91.6 L206.7,88.1" stroke="#c8cccc" stroke-width="4.2" fill="none" stroke-linecap="round"/>
<path d="M206.7,88.1 L211.5,86.7" stroke="#c8cccc" stroke-width="2.4" fill="none" stroke-linecap="round"/>
<ellipse cx="213.0" cy="86.7" rx="2.8" ry="1.9" fill="#dadcdc"/>
<path d="M199.0,109.6 L205.6,114.7" stroke="#c8cccc" stroke-width="4.2" fill="none" stroke-linecap="round"/>
<path d="M205.6,114.7 L209.5,117.5" stroke="#c8cccc" stroke-width="2.4" fill="none" stroke-linecap="round"/>
<ellipse cx="211.0" cy="117.5" rx="2.8" ry="1.9" fill="#dadcdc"/>
<path d="M144.0,99.5 C144.2,99.0 145.4,97.2 146.0,96.7 C146.6,96.2 149.2,94.9 150.0,94.4 C150.8,94.0 153.5,92.6 154.0,92.2 C154.5,91.8 154.8,90.4 155.0,90.0 C155.2,89.6 156.1,88.5 156.5,88.3 C156.9,88.1 158.6,87.9 159.0,88.1 C159.4,88.2 160.5,89.7 161.0,90.0 C161.5,90.3 163.3,91.1 164.0,91.1 C164.7,91.1 166.8,90.2 168.0,90.0 C169.2,89.7 174.0,88.7 176.0,88.5 C178.0,88.3 186.0,88.3 188.0,88.3 C190.0,88.3 194.8,88.4 196.0,88.5 C197.2,88.6 199.3,88.9 200.0,89.2 C200.7,89.5 202.1,91.0 202.5,91.6 C202.9,92.3 203.9,94.9 204.2,95.6 C204.4,96.2 204.9,97.6 205.0,98.4 C205.1,99.1 205.1,102.1 205.0,102.8 C204.9,103.6 204.4,105.0 204.2,105.6 C203.9,106.3 202.9,108.9 202.5,109.6 C202.1,110.2 200.7,111.7 200.0,112.0 C199.3,112.3 197.2,112.6 196.0,112.7 C194.8,112.8 190.0,112.9 188.0,112.9 C186.0,112.9 178.0,112.9 176.0,112.7 C174.0,112.5 169.2,111.5 168.0,111.2 C166.8,111.0 164.7,110.1 164.0,110.1 C163.3,110.1 161.5,110.9 161.0,111.2 C160.5,111.5 159.4,113.0 159.0,113.1 C158.6,113.3 156.9,113.1 156.5,112.9 C156.1,112.7 155.2,111.6 155.0,111.2 C154.8,110.8 154.5,109.4 154.0,109.0 C153.5,108.6 150.8,107.2 150.0,106.8 C149.2,106.3 146.6,105.0 146.0,104.5 C145.4,104.0 144.2,102.2 144.0,101.7 C143.8,101.2 143.8,100.0 144.0,99.5Z" fill="#c6c8c8" stroke="#a4a8a8" stroke-width="1.0"/>
</g>
<ellipse cx="182.0" cy="102.1" rx="22.00" ry="12.30" fill="url(#g8)"/>
<ellipse cx="156.0" cy="100.6" rx="12.00" ry="9.00" fill="url(#g9)"/>
<ellipse cx="172.3" cy="94.1" rx="0.9" ry="1.7" fill="#4a3ef0"/>
<ellipse cx="172.3" cy="106.9" rx="0.9" ry="1.7" fill="#4a3ef0"/>
</g>
<rect x="134" y="83.3" width="94" height="0.8" fill="#0a0e0e" opacity="0.7"/>
<clipPath id="c230_83"><rect x="230" y="83.3" width="94" height="36.1"/></clipPath>
<g clip-path="url(#c230_83)">
<rect x="230" y="83.3" width="94" height="36.1" fill="#141a1a"/><g filter="url(#b07)"><rect x="231.6" y="83.3" width="3.6" height="36.1" fill="rgb(33,47,47)"/><rect x="238.9" y="83.3" width="1.6" height="36.1" fill="rgb(22,36,36)"/><rect x="244.0" y="83.3" width="2.7" height="36.1" fill="rgb(42,56,56)"/><rect x="250.4" y="83.3" width="2.3" height="36.1" fill="rgb(18,32,32)"/><rect x="255.0" y="83.3" width="3.5" height="36.1" fill="rgb(41,55,55)"/><rect x="262.6" y="83.3" width="3.8" height="36.1" fill="rgb(35,49,49)"/><rect x="270.0" y="83.3" width="2.0" height="36.1" fill="rgb(35,49,49)"/><rect x="275.5" y="83.3" width="3.3" height="36.1" fill="rgb(39,53,53)"/><rect x="282.8" y="83.3" width="3.2" height="36.1" fill="rgb(31,45,45)"/><rect x="288.5" y="83.3" width="1.7" height="36.1" fill="rgb(31,45,45)"/><rect x="294.1" y="83.3" width="2.6" height="36.1" fill="rgb(21,35,35)"/><rect x="300.5" y="83.3" width="3.3" height="36.1" fill="rgb(27,41,41)"/><rect x="305.6" y="83.3" width="1.6" height="36.1" fill="rgb(24,38,38)"/><rect x="311.2" y="83.3" width="3.8" height="36.1" fill="rgb(33,47,47)"/><rect x="319.2" y="83.3" width="3.8" height="36.1" fill="rgb(34,48,48)"/></g>
<g filter="url(#b04)">
<path d="M297.5,98.8 Q311.2,98.9 325,101.7 L325,103.8 Q311.2,101.3 297.5,101.5Z" fill="#d0d4d4"/>
<path d="M295.5,90.2 L304.0,90.1" stroke="#c8cccc" stroke-width="4.2" fill="none" stroke-linecap="round"/>
<path d="M304.0,90.1 L309.5,91.4" stroke="#c8cccc" stroke-width="2.4" fill="none" stroke-linecap="round"/>
<ellipse cx="311.0" cy="91.4" rx="2.8" ry="1.9" fill="#dadcdc"/>
<path d="M295.5,109.8 L302.9,110.8" stroke="#c8cccc" stroke-width="4.2" fill="none" stroke-linecap="round"/>
<path d="M302.9,110.8 L307.5,110.2" stroke="#c8cccc" stroke-width="2.4" fill="none" stroke-linecap="round"/>
<ellipse cx="309.0" cy="110.2" rx="2.8" ry="1.9" fill="#dadcdc"/>
<path d="M240.5,98.8 C240.7,98.2 242.0,96.3 242.6,95.8 C243.2,95.3 245.9,93.9 246.7,93.4 C247.5,93.0 250.2,91.6 250.7,91.1 C251.2,90.6 251.5,89.1 251.8,88.7 C252.1,88.3 252.9,87.1 253.3,86.9 C253.8,86.7 255.4,86.5 255.9,86.7 C256.3,86.9 257.3,88.5 257.8,88.9 C258.3,89.2 260.1,90.1 260.8,90.2 C261.5,90.2 263.6,89.3 264.8,89.0 C266.0,88.8 270.8,87.8 272.8,87.7 C274.8,87.5 282.8,87.7 284.8,87.7 C286.8,87.8 291.6,88.1 292.8,88.2 C294.0,88.3 296.2,88.7 296.8,89.0 C297.4,89.4 298.8,91.1 299.2,91.8 C299.6,92.5 300.6,95.3 300.8,96.1 C301.1,96.8 301.5,98.4 301.5,99.2 C301.6,100.0 301.5,103.2 301.4,104.0 C301.3,104.8 300.8,106.3 300.5,107.1 C300.3,107.8 299.2,110.6 298.7,111.3 C298.3,112.0 296.8,113.6 296.2,113.9 C295.5,114.2 293.3,114.5 292.1,114.5 C290.9,114.6 286.1,114.6 284.1,114.6 C282.1,114.5 274.1,114.2 272.1,114.0 C270.1,113.8 265.4,112.5 264.2,112.2 C263.0,111.9 260.9,110.9 260.2,110.9 C259.5,110.9 257.7,111.7 257.2,112.0 C256.7,112.3 255.6,113.9 255.1,114.1 C254.7,114.2 253.0,114.0 252.6,113.7 C252.2,113.5 251.4,112.3 251.2,111.9 C251.0,111.4 250.7,109.9 250.3,109.4 C249.8,108.9 247.1,107.4 246.3,106.9 C245.5,106.4 243.0,104.9 242.4,104.3 C241.8,103.8 240.7,101.8 240.5,101.2 C240.3,100.7 240.3,99.3 240.5,98.8Z" fill="#c6d0d0" stroke="#a4a8a8" stroke-width="1.0"/>
</g>
<ellipse cx="278.5" cy="101.5" rx="22.00" ry="12.90" fill="url(#g10)"/>
<ellipse cx="252.5" cy="100.0" rx="12.00" ry="9.50" fill="url(#g11)"/>
<path d="M262.6,92.2 Q262.6,90.2 264.6,90.2 L272.6,90.2 Q274.6,90.2 274.6,92.2 L274.6,97.8 Q271.4,101.0 274.6,104.2 L274.6,109.8 Q274.6,111.8 272.6,111.8 L264.6,111.8 Q262.6,111.8 262.6,109.8 L262.6,104.2 Q265.8,101.0 262.6,97.8Z" fill="#4a3ef0" filter="url(#b04)"/>
</g>
<rect x="230" y="83.3" width="94" height="0.8" fill="#0a0e0e" opacity="0.7"/>
<rect x="79.5" y="127" width="244" height="8.8" fill="url(#cbar)" stroke="#222" stroke-width="0.8"/>
<line x1="93.5" y1="136" x2="93.5" y2="138.8" stroke="#000" stroke-width="1.0"/>
<line x1="108.5" y1="136" x2="108.5" y2="138.8" stroke="#000" stroke-width="1.0"/>
<line x1="123.5" y1="136" x2="123.5" y2="138.8" stroke="#000" stroke-width="1.0"/>
<line x1="138.5" y1="136" x2="138.5" y2="138.8" stroke="#000" stroke-width="1.0"/>
<line x1="153.5" y1="136" x2="153.5" y2="141.2" stroke="#000" stroke-width="1.0"/>
<line x1="168.5" y1="136" x2="168.5" y2="138.8" stroke="#000" stroke-width="1.0"/>
<line x1="183.5" y1="136" x2="183.5" y2="138.8" stroke="#000" stroke-width="1.0"/>
<line x1="198.5" y1="136" x2="198.5" y2="138.8" stroke="#000" stroke-width="1.0"/>
<line x1="213.5" y1="136" x2="213.5" y2="138.8" stroke="#000" stroke-width="1.0"/>
<line x1="228.5" y1="136" x2="228.5" y2="141.2" stroke="#000" stroke-width="1.0"/>
<line x1="243.5" y1="136" x2="243.5" y2="138.8" stroke="#000" stroke-width="1.0"/>
<line x1="258.5" y1="136" x2="258.5" y2="138.8" stroke="#000" stroke-width="1.0"/>
<line x1="273.5" y1="136" x2="273.5" y2="138.8" stroke="#000" stroke-width="1.0"/>
<line x1="288.5" y1="136" x2="288.5" y2="138.8" stroke="#000" stroke-width="1.0"/>
<line x1="303.5" y1="136" x2="303.5" y2="141.2" stroke="#000" stroke-width="1.0"/>
<line x1="318.5" y1="136" x2="318.5" y2="138.8" stroke="#000" stroke-width="1.0"/>
<text x="81.5" y="151" font-size="7.5" text-anchor="middle" font-weight="normal" fill="#000" >0</text>
<text x="154" y="151" font-size="7.5" text-anchor="middle" font-weight="normal" fill="#000" >2000</text>
<text x="229" y="151" font-size="7.5" text-anchor="middle" font-weight="normal" fill="#000" >4000</text>
<text x="304" y="151" font-size="7.5" text-anchor="middle" font-weight="normal" fill="#000" >6000</text>
<text x="371" y="15.8" font-size="11" text-anchor="start" font-weight="bold" fill="#000" >D</text>
<line x1="406.4" y1="16.7" x2="406.4" y2="131.5" stroke="#000" stroke-width="1.3"/>
<line x1="406" y1="127.5" x2="489" y2="127.5" stroke="#000" stroke-width="1.3"/>
<line x1="452.2" y1="127.5" x2="452.2" y2="131.5" stroke="#000" stroke-width="1.3"/>
<line x1="403.5" y1="127.5" x2="406.4" y2="127.5" stroke="#000" stroke-width="1.3"/>
<text x="401.2" y="130.25" font-size="8.1" text-anchor="end" font-weight="normal" fill="#000" textLength="4.23" lengthAdjust="spacingAndGlyphs" >0</text>
<line x1="403.5" y1="109.1" x2="406.4" y2="109.1" stroke="#000" stroke-width="1.3"/>
<text x="401.2" y="111.85" font-size="8.1" text-anchor="end" font-weight="normal" fill="#000" textLength="8.45" lengthAdjust="spacingAndGlyphs" >10</text>
<line x1="403.5" y1="90.7" x2="406.4" y2="90.7" stroke="#000" stroke-width="1.3"/>
<text x="401.2" y="93.44999999999999" font-size="8.1" text-anchor="end" font-weight="normal" fill="#000" textLength="8.45" lengthAdjust="spacingAndGlyphs" >20</text>
<line x1="403.5" y1="72.3" x2="406.4" y2="72.3" stroke="#000" stroke-width="1.3"/>
<text x="401.2" y="75.05" font-size="8.1" text-anchor="end" font-weight="normal" fill="#000" textLength="8.45" lengthAdjust="spacingAndGlyphs" >30</text>
<line x1="403.5" y1="53.9" x2="406.4" y2="53.9" stroke="#000" stroke-width="1.3"/>
<text x="401.2" y="56.64999999999999" font-size="8.1" text-anchor="end" font-weight="normal" fill="#000" textLength="8.45" lengthAdjust="spacingAndGlyphs" >40</text>
<line x1="403.5" y1="35.5" x2="406.4" y2="35.5" stroke="#000" stroke-width="1.3"/>
<text x="401.2" y="38.25" font-size="8.1" text-anchor="end" font-weight="normal" fill="#000" textLength="8.45" lengthAdjust="spacingAndGlyphs" >50</text>
<line x1="403.5" y1="17.1" x2="406.4" y2="17.1" stroke="#000" stroke-width="1.3"/>
<text x="401.2" y="19.849999999999994" font-size="8.1" text-anchor="end" font-weight="normal" fill="#000" textLength="8.45" lengthAdjust="spacingAndGlyphs" >60</text>
<rect x="416.2" y="46.5" width="22.1" height="81.0" fill="#0032aa"/>
<rect x="463.6" y="116.8" width="22.4" height="10.7" fill="#c70014"/>
<line x1="427.2" y1="35.5" x2="427.2" y2="59.4" stroke="#000" stroke-width="1.1"/>
<line x1="425.4" y1="35.5" x2="429" y2="35.5" stroke="#000" stroke-width="1.1"/>
<line x1="425.4" y1="59.4" x2="429" y2="59.4" stroke="#000" stroke-width="1.1"/>
<rect x="473.8" y="116.3" width="2.4" height="2.6" fill="#000"/>
<line x1="427" y1="13.4" x2="440" y2="13.4" stroke="#000" stroke-width="1.3"/>
<line x1="460" y1="13.4" x2="473" y2="13.4" stroke="#000" stroke-width="1.3"/>
<text x="445.8" y="17.9" font-size="7.6" text-anchor="start" font-weight="bold" fill="#000" textLength="9.4" lengthAdjust="spacingAndGlyphs" >***</text>
<text x="410.6" y="139.4" font-size="7.6" text-anchor="start" font-weight="normal" fill="#000" textLength="37.2" lengthAdjust="spacingAndGlyphs" >4175 Mock</text>
<text x="456.2" y="139.4" font-size="7.6" text-anchor="start" font-weight="normal" fill="#000" textLength="40.4" lengthAdjust="spacingAndGlyphs" >4175 HGAL</text>
<text transform="translate(384.9,71.8) rotate(-90)" x="0" y="0" font-size="9.4" text-anchor="middle" fill="#000" textLength="51.1" lengthAdjust="spacingAndGlyphs" style="stroke-width:0.38px">Number of tumors</text>
<text x="9.5" y="171.2" font-size="11" text-anchor="start" font-weight="bold" fill="#000" >B</text>
<line x1="62" y1="185.3" x2="62" y2="315" stroke="#000" stroke-width="1.25"/>
<line x1="62" y1="310" x2="238.3" y2="310" stroke="#000" stroke-width="1.25"/>
<line x1="62.0" y1="310" x2="62.0" y2="315" stroke="#000" stroke-width="1.2"/>
<text x="62.0" y="323.9" font-size="7.2" text-anchor="middle" font-weight="normal" fill="#000" textLength="3.84" lengthAdjust="spacingAndGlyphs" >0</text>
<line x1="91.4" y1="310" x2="91.4" y2="315" stroke="#000" stroke-width="1.2"/>
<text x="91.38" y="323.9" font-size="7.2" text-anchor="middle" font-weight="normal" fill="#000" textLength="3.84" lengthAdjust="spacingAndGlyphs" >1</text>
<line x1="120.8" y1="310" x2="120.8" y2="315" stroke="#000" stroke-width="1.2"/>
<text x="120.75999999999999" y="323.9" font-size="7.2" text-anchor="middle" font-weight="normal" fill="#000" textLength="3.84" lengthAdjust="spacingAndGlyphs" >2</text>
<line x1="150.1" y1="310" x2="150.1" y2="315" stroke="#000" stroke-width="1.2"/>
<text x="150.14" y="323.9" font-size="7.2" text-anchor="middle" font-weight="normal" fill="#000" textLength="3.84" lengthAdjust="spacingAndGlyphs" >3</text>
<line x1="179.5" y1="310" x2="179.5" y2="315" stroke="#000" stroke-width="1.2"/>
<text x="179.51999999999998" y="323.9" font-size="7.2" text-anchor="middle" font-weight="normal" fill="#000" textLength="3.84" lengthAdjust="spacingAndGlyphs" >4</text>
<line x1="208.9" y1="310" x2="208.9" y2="315" stroke="#000" stroke-width="1.2"/>
<text x="208.9" y="323.9" font-size="7.2" text-anchor="middle" font-weight="normal" fill="#000" textLength="3.84" lengthAdjust="spacingAndGlyphs" >5</text>
<line x1="238.3" y1="310" x2="238.3" y2="315" stroke="#000" stroke-width="1.2"/>
<text x="238.28" y="323.9" font-size="7.2" text-anchor="middle" font-weight="normal" fill="#000" textLength="3.84" lengthAdjust="spacingAndGlyphs" >6</text>
<line x1="57.3" y1="185.3" x2="62" y2="185.3" stroke="#000" stroke-width="1.2"/>
<text x="54.8" y="188.05" font-size="8.1" text-anchor="end" font-weight="normal" fill="#000" textLength="21.13" lengthAdjust="spacingAndGlyphs" >10000</text>
<line x1="57.3" y1="210.2" x2="62" y2="210.2" stroke="#000" stroke-width="1.2"/>
<text x="54.8" y="212.95000000000002" font-size="8.1" text-anchor="end" font-weight="normal" fill="#000" textLength="16.9" lengthAdjust="spacingAndGlyphs" >1000</text>
<line x1="57.3" y1="235.1" x2="62" y2="235.1" stroke="#000" stroke-width="1.2"/>
<text x="54.8" y="237.85000000000002" font-size="8.1" text-anchor="end" font-weight="normal" fill="#000" textLength="12.68" lengthAdjust="spacingAndGlyphs" >100</text>
<line x1="57.3" y1="260.0" x2="62" y2="260.0" stroke="#000" stroke-width="1.2"/>
<text x="54.8" y="262.75" font-size="8.1" text-anchor="end" font-weight="normal" fill="#000" textLength="8.45" lengthAdjust="spacingAndGlyphs" >10</text>
<line x1="57.3" y1="284.9" x2="62" y2="284.9" stroke="#000" stroke-width="1.2"/>
<text x="54.8" y="287.65000000000003" font-size="8.1" text-anchor="end" font-weight="normal" fill="#000" textLength="4.23" lengthAdjust="spacingAndGlyphs" >1</text>
<line x1="57.3" y1="309.8" x2="62" y2="309.8" stroke="#000" stroke-width="1.2"/>
<text x="54.8" y="312.55" font-size="8.1" text-anchor="end" font-weight="normal" fill="#000" textLength="10.56" lengthAdjust="spacingAndGlyphs" >0.1</text>
<text x="134.8" y="337.3" font-size="9.1" text-anchor="start" font-weight="normal" fill="#000" textLength="19.2" lengthAdjust="spacingAndGlyphs" style="stroke-width:0.38px">Weeks</text>
<text transform="translate(29.9,247.5) rotate(-90)" x="0" y="0" font-size="9.0" text-anchor="middle" fill="#000" textLength="67.8" lengthAdjust="spacingAndGlyphs" style="stroke-width:0.38px">Normalized photon flux</text>
<polyline points="62.0,289.9 91.4,291.4 120.8,288.7 150.1,289.2 179.5,291.9 208.9,292.5 238.3,291.6" fill="none" stroke="#38f800" stroke-width="1.3"/>
<polyline points="62.0,234.7 91.4,265.0 120.8,258.4 150.1,256.8 179.5,251.6 208.9,242.0 238.3,231.5" fill="none" stroke="#c80012" stroke-width="1.3"/>
<polyline points="62.0,234.7 91.4,254.2 120.8,234.2 150.1,225.3 179.5,211.9 208.9,202.8 238.3,191.2" fill="none" stroke="#0c2eb0" stroke-width="1.3"/>
<path d="M62.0,287.5 L64.5,292.5 L59.5,292.5Z" fill="#38f800"/>
<path d="M91.4,289.0 L93.9,294.0 L88.9,294.0Z" fill="#38f800"/>
<path d="M120.8,286.3 L123.3,291.3 L118.3,291.3Z" fill="#38f800"/>
<path d="M150.1,286.8 L152.6,291.8 L147.6,291.8Z" fill="#38f800"/>
<path d="M179.5,289.5 L182.0,294.5 L177.0,294.5Z" fill="#38f800"/>
<path d="M208.9,290.1 L211.4,295.1 L206.4,295.1Z" fill="#38f800"/>
<path d="M238.3,289.2 L240.8,294.2 L235.8,294.2Z" fill="#38f800"/>
<rect x="59.5" y="232.2" width="5" height="5" fill="#c80012"/>
<rect x="88.9" y="262.5" width="5" height="5" fill="#c80012"/>
<rect x="118.3" y="255.9" width="5" height="5" fill="#c80012"/>
<path d="M150.1,253.3V260.3M147.6,253.3H152.6M147.6,260.3H152.6" stroke="#c80012" stroke-width="1.1"/>
<rect x="147.6" y="254.3" width="5" height="5" fill="#c80012"/>
<path d="M179.5,248.6V254.6M177.0,248.6H182.0M177.0,254.6H182.0" stroke="#c80012" stroke-width="1.1"/>
<rect x="177.0" y="249.1" width="5" height="5" fill="#c80012"/>
<path d="M208.9,238.0V246.0M206.4,238.0H211.4M206.4,246.0H211.4" stroke="#c80012" stroke-width="1.1"/>
<rect x="206.4" y="239.5" width="5" height="5" fill="#c80012"/>
<path d="M238.3,228.5V234.5M235.8,228.5H240.8M235.8,234.5H240.8" stroke="#c80012" stroke-width="1.1"/>
<rect x="235.8" y="229.0" width="5" height="5" fill="#c80012"/>
<path d="M62.0,231.9 L64.6,234.7 L62.0,237.5 L59.4,234.7Z" fill="#0c2eb0"/>
<path d="M91.4,249.9V258.5M88.9,249.9H93.9M88.9,258.5H93.9" stroke="#0c2eb0" stroke-width="1.1"/>
<path d="M91.4,251.4 L94.0,254.2 L91.4,257.0 L88.8,254.2Z" fill="#0c2eb0"/>
<path d="M120.8,230.8V237.6M118.3,230.8H123.3M118.3,237.6H123.3" stroke="#0c2eb0" stroke-width="1.1"/>
<path d="M120.8,231.4 L123.4,234.2 L120.8,237.0 L118.2,234.2Z" fill="#0c2eb0"/>
<path d="M150.1,221.1V229.5M147.6,221.1H152.6M147.6,229.5H152.6" stroke="#0c2eb0" stroke-width="1.1"/>
<path d="M150.1,222.5 L152.7,225.3 L150.1,228.1 L147.5,225.3Z" fill="#0c2eb0"/>
<path d="M179.5,208.1V215.7M177.0,208.1H182.0M177.0,215.7H182.0" stroke="#0c2eb0" stroke-width="1.1"/>
<path d="M179.5,209.1 L182.1,211.9 L179.5,214.7 L176.9,211.9Z" fill="#0c2eb0"/>
<path d="M208.9,197.8V207.8M206.4,197.8H211.4M206.4,207.8H211.4" stroke="#0c2eb0" stroke-width="1.1"/>
<path d="M208.9,200.0 L211.5,202.8 L208.9,205.6 L206.3,202.8Z" fill="#0c2eb0"/>
<path d="M238.3,187.4V195.0M235.8,187.4H240.8M235.8,195.0H240.8" stroke="#0c2eb0" stroke-width="1.1"/>
<path d="M238.3,188.4 L240.9,191.2 L238.3,194.0 L235.7,191.2Z" fill="#0c2eb0"/>
<line x1="71.1" y1="194.4" x2="83.9" y2="194.4" stroke="#38f800" stroke-width="1.3"/>
<path d="M77.5,192.0 L80.0,197.0 L75.0,197.0Z" fill="#38f800"/>
<line x1="71.1" y1="208.3" x2="83.9" y2="208.3" stroke="#0c2eb0" stroke-width="1.3"/>
<path d="M77.5,205.60000000000002 L79.9,208.3 L77.5,211.0 L75.1,208.3Z" fill="#0c2eb0"/>
<line x1="71.1" y1="222.5" x2="83.9" y2="222.5" stroke="#c80012" stroke-width="1.3"/>
<rect x="75.0" y="219.9" width="5" height="5.2" fill="#c80012"/>
<text x="86.9" y="196.8" font-size="7.2" text-anchor="start" font-weight="normal" fill="#000" textLength="36.9" lengthAdjust="spacingAndGlyphs" >Background</text>
<text x="86.9" y="210.7" font-size="7.2" text-anchor="start" font-weight="normal" fill="#000" textLength="35.4" lengthAdjust="spacingAndGlyphs" >4175 Mock</text>
<text x="86.9" y="224.9" font-size="7.2" text-anchor="start" font-weight="normal" fill="#000" textLength="37.7" lengthAdjust="spacingAndGlyphs" >4175 HGAL</text>
<text x="267.4" y="171.2" font-size="11" text-anchor="start" font-weight="bold" fill="#000" >E</text>
<text transform="translate(290.1,203.0) rotate(-90)" x="0" y="0" font-size="8.9" text-anchor="middle" fill="#000" textLength="17.6" lengthAdjust="spacingAndGlyphs" >Day 1</text>
<text transform="translate(290.4,288) rotate(-90)" x="0" y="0" font-size="8.9" text-anchor="middle" fill="#000" textLength="19.1" lengthAdjust="spacingAndGlyphs" >Day 6</text>
<clipPath id="e294_161"><rect x="294.5" y="161.2" width="103.5" height="78.2"/></clipPath>
<g clip-path="url(#e294_161)"><rect x="294.5" y="161.2" width="103.5" height="78.2" fill="#cad6d5"/><rect x="293.5" y="161.2" width="2.2" height="78" fill="#b0bebe" filter="url(#b1)"/><ellipse cx="300" cy="237" rx="16.00" ry="13.00" fill="url(#g12)"/><path d="M333,234 Q337,235 340,238.5" stroke="#8a9a9a" stroke-width="0.8" fill="none"/><circle cx="341.9" cy="162.4" r="0.6" fill="#5a6a6a" filter="url(#b04)"/><circle cx="368.4" cy="182.8" r="0.7" fill="#5a6a6a" filter="url(#b04)"/><circle cx="364.3" cy="192.2" r="0.6" fill="#5a6a6a" filter="url(#b04)"/><circle cx="356.8" cy="201.4" r="6.1" fill="#2e4242" filter="url(#b05)"/></g>
<clipPath id="e406_161"><rect x="406" y="161.2" width="103" height="78.2"/></clipPath>
<g clip-path="url(#e406_161)"><rect x="406" y="161.2" width="103" height="78.2" fill="#c5d1cf"/><ellipse cx="422" cy="176" rx="28.00" ry="20.00" fill="url(#g13)"/><circle cx="480.8" cy="178.8" r="0.6" fill="#5a6a6a" filter="url(#b04)"/><circle cx="502.4" cy="173.7" r="0.6" fill="#5a6a6a" filter="url(#b04)"/><circle cx="479" cy="191.2" r="0.5" fill="#5a6a6a" filter="url(#b04)"/><circle cx="487.6" cy="194.7" r="0.6" fill="#5a6a6a" filter="url(#b04)"/><circle cx="494.3" cy="200.2" r="0.6" fill="#5a6a6a" filter="url(#b04)"/><circle cx="478.4" cy="206.9" r="1.0" fill="#5a6a6a" filter="url(#b04)"/><circle cx="490.6" cy="210" r="0.6" fill="#5a6a6a" filter="url(#b04)"/><circle cx="501.8" cy="226.2" r="0.7" fill="#5a6a6a" filter="url(#b04)"/><circle cx="470.2" cy="207.9" r="0.9" fill="#5a6a6a" filter="url(#b04)"/><circle cx="464.1" cy="207.3" r="5.3" fill="#2c3e3e" filter="url(#b05)"/></g>
<clipPath id="e294_246"><rect x="294.5" y="246.3" width="103.5" height="77.8"/></clipPath>
<g clip-path="url(#e294_246)"><rect x="294.5" y="246.3" width="103.5" height="77.8" fill="#d2dcdb"/><ellipse cx="318" cy="268" rx="36.00" ry="21.00" fill="url(#g14)"/><path d="M398.5,311 Q397,320 390.5,324.5 L399,324.5Z" fill="#5a6a6a" filter="url(#b05)"/><circle cx="345.6" cy="288.5" r="16.5" fill="url(#halo1)" filter="url(#spiky)"/><circle cx="345.6" cy="288.5" r="7.6" fill="#000" filter="url(#b05)"/></g>
<clipPath id="e406_246"><rect x="406" y="246.3" width="103" height="77.8"/></clipPath>
<g clip-path="url(#e406_246)"><rect x="406" y="246.3" width="103" height="77.8" fill="#d6dfdd"/><ellipse cx="440" cy="264" rx="38.00" ry="24.00" fill="url(#g15)"/><circle cx="484.5" cy="287.8" r="0.6" fill="#5a6a6a" filter="url(#b04)"/><circle cx="466" cy="281.5" r="13.5" fill="url(#halo1)" filter="url(#spiky2)"/><circle cx="466" cy="281.5" r="6.2" fill="#020606" filter="url(#b05)"/><rect x="482.5" y="311.2" width="19.3" height="4.1" fill="#000"/></g>
<text x="323.8" y="336.3" font-size="7.4" text-anchor="start" font-weight="normal" fill="#000" textLength="37.4" lengthAdjust="spacingAndGlyphs" >4175 Mock</text>
<text x="432.8" y="336.3" font-size="7.4" text-anchor="start" font-weight="normal" fill="#000" textLength="40.5" lengthAdjust="spacingAndGlyphs" >4175 HGAL</text>
<text x="9.5" y="360.4" font-size="11" text-anchor="start" font-weight="bold" fill="#000" >C</text>
<rect x="38.2" y="369" width="94.2" height="97.5" fill="#f5f6f8"/>
<rect x="136.2" y="369" width="94.7" height="97.5" fill="#f5f6f8"/>
<rect x="38.2" y="465.8" width="94.2" height="0.8" fill="#c4cad4"/>
<rect x="136.2" y="465.8" width="94.7" height="0.8" fill="#c4cad4"/>
<clipPath id="lvm"><path d="M60.8,393.0 C61.0,391.3 61.2,389.8 62.3,388.7 C63.4,387.6 65.3,387.0 67.3,386.5 C69.3,386.0 72.1,385.5 74.5,385.5 C76.9,385.5 79.5,385.9 81.7,386.5 C83.9,387.1 85.8,388.4 87.5,388.9 C89.2,389.4 90.1,389.4 91.8,389.4 C93.5,389.4 95.2,388.6 97.6,388.7 C100.0,388.8 103.9,389.3 106.3,390.1 C108.7,390.9 110.3,392.0 112.0,393.7 C113.7,395.4 115.3,397.7 116.4,400.2 C117.5,402.7 118.0,406.0 118.5,408.9 C119.0,411.8 119.3,414.9 119.3,417.5 C119.3,420.1 119.1,421.7 118.5,424.3 C117.9,426.9 117.0,430.1 115.7,433.0 C114.4,435.9 112.4,439.2 110.6,441.6 C108.8,444.0 107.0,445.7 104.8,447.4 C102.6,449.1 100.2,450.6 97.6,451.7 C95.0,452.8 91.3,453.8 89.0,453.9 C86.7,454.0 85.6,452.4 83.9,452.5 C82.2,452.6 81.2,454.2 78.9,454.6 C76.6,455.0 72.9,455.2 70.2,454.6 C67.5,454.0 64.9,452.7 63.0,451.0 C61.1,449.3 59.9,447.3 58.7,444.5 C57.5,441.7 56.4,437.9 55.8,434.4 C55.2,430.9 54.9,426.1 55.0,423.3 C55.1,420.5 55.9,419.9 56.5,417.5 C57.1,415.1 57.9,411.3 58.7,408.9 C59.5,406.5 61.1,404.7 61.5,403.0 C61.9,401.3 60.9,400.5 60.8,398.8 C60.7,397.1 60.5,394.7 60.8,393.0Z"/></clipPath>
<clipPath id="lvh"><path d="M153.1,418.5 C153.5,416.7 157.5,409.8 158.2,408.3 C158.9,406.8 161.4,401.7 162.0,400.7 C162.6,399.7 165.1,396.8 165.8,396.6 C166.5,396.4 170.0,397.4 170.8,397.9 C171.6,398.3 174.7,401.4 175.3,402.0 C175.9,402.6 177.3,404.3 177.8,404.5 C178.3,404.7 180.5,404.2 181.0,403.9 C181.5,403.6 183.9,401.4 184.2,400.7 C184.5,400.0 183.9,395.7 184.2,395.0 C184.5,394.3 186.6,393.0 187.3,392.8 C188.0,392.6 191.4,392.8 192.4,393.1 C193.4,393.4 197.9,395.5 198.8,396.2 C199.8,396.9 203.1,401.0 203.8,402.0 C204.5,403.0 206.6,407.0 207.0,408.3 C207.4,409.6 208.7,415.7 208.9,417.2 C209.1,418.7 209.7,424.9 209.5,426.3 C209.3,427.7 207.5,432.7 207.0,434.0 C206.5,435.3 204.4,440.5 203.8,441.6 C203.2,442.7 200.8,446.5 200.0,447.3 C199.2,448.1 194.9,450.7 193.7,451.1 C192.5,451.5 187.2,452.3 186.1,452.4 C185.0,452.5 181.8,452.6 181.0,452.4 C180.2,452.2 177.0,450.9 175.9,450.5 C174.8,450.1 169.6,448.5 168.3,447.9 C167.0,447.3 161.8,443.8 160.7,442.8 C159.6,441.9 156.2,437.6 155.6,436.5 C155.0,435.4 153.3,431.7 153.1,430.2 C152.9,428.7 152.7,420.3 153.1,418.5Z"/></clipPath>
<path d="M60.8,393.0 C61.0,391.3 61.2,389.8 62.3,388.7 C63.4,387.6 65.3,387.0 67.3,386.5 C69.3,386.0 72.1,385.5 74.5,385.5 C76.9,385.5 79.5,385.9 81.7,386.5 C83.9,387.1 85.8,388.4 87.5,388.9 C89.2,389.4 90.1,389.4 91.8,389.4 C93.5,389.4 95.2,388.6 97.6,388.7 C100.0,388.8 103.9,389.3 106.3,390.1 C108.7,390.9 110.3,392.0 112.0,393.7 C113.7,395.4 115.3,397.7 116.4,400.2 C117.5,402.7 118.0,406.0 118.5,408.9 C119.0,411.8 119.3,414.9 119.3,417.5 C119.3,420.1 119.1,421.7 118.5,424.3 C117.9,426.9 117.0,430.1 115.7,433.0 C114.4,435.9 112.4,439.2 110.6,441.6 C108.8,444.0 107.0,445.7 104.8,447.4 C102.6,449.1 100.2,450.6 97.6,451.7 C95.0,452.8 91.3,453.8 89.0,453.9 C86.7,454.0 85.6,452.4 83.9,452.5 C82.2,452.6 81.2,454.2 78.9,454.6 C76.6,455.0 72.9,455.2 70.2,454.6 C67.5,454.0 64.9,452.7 63.0,451.0 C61.1,449.3 59.9,447.3 58.7,444.5 C57.5,441.7 56.4,437.9 55.8,434.4 C55.2,430.9 54.9,426.1 55.0,423.3 C55.1,420.5 55.9,419.9 56.5,417.5 C57.1,415.1 57.9,411.3 58.7,408.9 C59.5,406.5 61.1,404.7 61.5,403.0 C61.9,401.3 60.9,400.5 60.8,398.8 C60.7,397.1 60.5,394.7 60.8,393.0Z" fill="#b8b4b8" transform="translate(0.5,2)" filter="url(#b2)" opacity="0.7"/>
<path d="M153.1,418.5 C153.5,416.7 157.5,409.8 158.2,408.3 C158.9,406.8 161.4,401.7 162.0,400.7 C162.6,399.7 165.1,396.8 165.8,396.6 C166.5,396.4 170.0,397.4 170.8,397.9 C171.6,398.3 174.7,401.4 175.3,402.0 C175.9,402.6 177.3,404.3 177.8,404.5 C178.3,404.7 180.5,404.2 181.0,403.9 C181.5,403.6 183.9,401.4 184.2,400.7 C184.5,400.0 183.9,395.7 184.2,395.0 C184.5,394.3 186.6,393.0 187.3,392.8 C188.0,392.6 191.4,392.8 192.4,393.1 C193.4,393.4 197.9,395.5 198.8,396.2 C199.8,396.9 203.1,401.0 203.8,402.0 C204.5,403.0 206.6,407.0 207.0,408.3 C207.4,409.6 208.7,415.7 208.9,417.2 C209.1,418.7 209.7,424.9 209.5,426.3 C209.3,427.7 207.5,432.7 207.0,434.0 C206.5,435.3 204.4,440.5 203.8,441.6 C203.2,442.7 200.8,446.5 200.0,447.3 C199.2,448.1 194.9,450.7 193.7,451.1 C192.5,451.5 187.2,452.3 186.1,452.4 C185.0,452.5 181.8,452.6 181.0,452.4 C180.2,452.2 177.0,450.9 175.9,450.5 C174.8,450.1 169.6,448.5 168.3,447.9 C167.0,447.3 161.8,443.8 160.7,442.8 C159.6,441.9 156.2,437.6 155.6,436.5 C155.0,435.4 153.3,431.7 153.1,430.2 C152.9,428.7 152.7,420.3 153.1,418.5Z" fill="#b8b4b8" transform="translate(0.5,2)" filter="url(#b2)" opacity="0.7"/>
<ellipse cx="74" cy="455.5" rx="11.40" ry="4.40" fill="url(#g16)"/>
<g clip-path="url(#lvm)">
<path d="M60.8,393.0 C61.0,391.3 61.2,389.8 62.3,388.7 C63.4,387.6 65.3,387.0 67.3,386.5 C69.3,386.0 72.1,385.5 74.5,385.5 C76.9,385.5 79.5,385.9 81.7,386.5 C83.9,387.1 85.8,388.4 87.5,388.9 C89.2,389.4 90.1,389.4 91.8,389.4 C93.5,389.4 95.2,388.6 97.6,388.7 C100.0,388.8 103.9,389.3 106.3,390.1 C108.7,390.9 110.3,392.0 112.0,393.7 C113.7,395.4 115.3,397.7 116.4,400.2 C117.5,402.7 118.0,406.0 118.5,408.9 C119.0,411.8 119.3,414.9 119.3,417.5 C119.3,420.1 119.1,421.7 118.5,424.3 C117.9,426.9 117.0,430.1 115.7,433.0 C114.4,435.9 112.4,439.2 110.6,441.6 C108.8,444.0 107.0,445.7 104.8,447.4 C102.6,449.1 100.2,450.6 97.6,451.7 C95.0,452.8 91.3,453.8 89.0,453.9 C86.7,454.0 85.6,452.4 83.9,452.5 C82.2,452.6 81.2,454.2 78.9,454.6 C76.6,455.0 72.9,455.2 70.2,454.6 C67.5,454.0 64.9,452.7 63.0,451.0 C61.1,449.3 59.9,447.3 58.7,444.5 C57.5,441.7 56.4,437.9 55.8,434.4 C55.2,430.9 54.9,426.1 55.0,423.3 C55.1,420.5 55.9,419.9 56.5,417.5 C57.1,415.1 57.9,411.3 58.7,408.9 C59.5,406.5 61.1,404.7 61.5,403.0 C61.9,401.3 60.9,400.5 60.8,398.8 C60.7,397.1 60.5,394.7 60.8,393.0Z" fill="#220508"/>
<ellipse cx="85" cy="424" rx="28.00" ry="30.00" fill="url(#g17)"/>
<ellipse cx="66" cy="394" rx="9.00" ry="11.00" fill="url(#g18)"/>
<ellipse cx="80" cy="390" rx="10.00" ry="7.50" fill="url(#g19)"/>
<ellipse cx="102" cy="392" rx="14.00" ry="8.00" fill="url(#g20)"/>
<ellipse cx="117.5" cy="416" rx="6.50" ry="16.00" fill="url(#g21)"/>
<ellipse cx="111" cy="437" rx="5.40" ry="5.40" fill="url(#g22)"/>
<ellipse cx="115" cy="425" rx="4.40" ry="4.90" fill="url(#g23)"/>
<ellipse cx="57" cy="430" rx="6.00" ry="16.00" fill="url(#g24)"/>
<ellipse cx="72" cy="453" rx="14.00" ry="6.50" fill="url(#g25)"/>
<ellipse cx="96" cy="451" rx="12.00" ry="6.50" fill="url(#g26)"/>
<ellipse cx="68" cy="418" rx="13.00" ry="15.00" fill="url(#g27)"/>
<path d="M87,391 C85,410 86,430 84,452" stroke="#0e0104" stroke-width="2" fill="none" filter="url(#b1)"/>
</g>
<circle cx="81.7" cy="441.6" r="1.2" fill="#f0e4ea" filter="url(#b04)"/>
<circle cx="95.5" cy="428" r="0.7" fill="#f0e4ea" filter="url(#b04)"/>
<circle cx="64" cy="418" r="0.6" fill="#f0e4ea" filter="url(#b04)"/>
<circle cx="73" cy="430" r="0.5" fill="#f0e4ea" filter="url(#b04)"/>
<circle cx="97" cy="437" r="0.5" fill="#f0e4ea" filter="url(#b04)"/>
<circle cx="90" cy="426" r="0.5" fill="#f0e4ea" filter="url(#b04)"/>
<circle cx="81" cy="396" r="0.9" fill="#f0e4ea" filter="url(#b04)"/>
<circle cx="103" cy="400" r="0.5" fill="#f0e4ea" filter="url(#b04)"/>
<circle cx="76" cy="414" r="0.5" fill="#f0e4ea" filter="url(#b04)"/>
<circle cx="83" cy="392" r="0.6" fill="#f0e4ea" filter="url(#b04)"/>
<ellipse cx="186" cy="453" rx="12.40" ry="4.20" fill="url(#g28)"/>
<g clip-path="url(#lvh)">
<path d="M153.1,418.5 C153.5,416.7 157.5,409.8 158.2,408.3 C158.9,406.8 161.4,401.7 162.0,400.7 C162.6,399.7 165.1,396.8 165.8,396.6 C166.5,396.4 170.0,397.4 170.8,397.9 C171.6,398.3 174.7,401.4 175.3,402.0 C175.9,402.6 177.3,404.3 177.8,404.5 C178.3,404.7 180.5,404.2 181.0,403.9 C181.5,403.6 183.9,401.4 184.2,400.7 C184.5,400.0 183.9,395.7 184.2,395.0 C184.5,394.3 186.6,393.0 187.3,392.8 C188.0,392.6 191.4,392.8 192.4,393.1 C193.4,393.4 197.9,395.5 198.8,396.2 C199.8,396.9 203.1,401.0 203.8,402.0 C204.5,403.0 206.6,407.0 207.0,408.3 C207.4,409.6 208.7,415.7 208.9,417.2 C209.1,418.7 209.7,424.9 209.5,426.3 C209.3,427.7 207.5,432.7 207.0,434.0 C206.5,435.3 204.4,440.5 203.8,441.6 C203.2,442.7 200.8,446.5 200.0,447.3 C199.2,448.1 194.9,450.7 193.7,451.1 C192.5,451.5 187.2,452.3 186.1,452.4 C185.0,452.5 181.8,452.6 181.0,452.4 C180.2,452.2 177.0,450.9 175.9,450.5 C174.8,450.1 169.6,448.5 168.3,447.9 C167.0,447.3 161.8,443.8 160.7,442.8 C159.6,441.9 156.2,437.6 155.6,436.5 C155.0,435.4 153.3,431.7 153.1,430.2 C152.9,428.7 152.7,420.3 153.1,418.5Z" fill="#681a14"/>
<ellipse cx="166" cy="410" rx="14.00" ry="14.00" fill="url(#g29)"/>
<ellipse cx="197" cy="404" rx="15.00" ry="14.00" fill="url(#g30)"/>
<ellipse cx="203" cy="428" rx="12.00" ry="18.00" fill="url(#g31)"/>
<ellipse cx="161" cy="433" rx="14.00" ry="14.00" fill="url(#g32)"/>
<ellipse cx="190" cy="447" rx="16.00" ry="10.00" fill="url(#g33)"/>
<ellipse cx="208" cy="418" rx="5.00" ry="13.00" fill="url(#g34)"/>
<ellipse cx="200" cy="397" rx="7.00" ry="5.00" fill="url(#g35)"/>
<ellipse cx="183" cy="450" rx="9.00" ry="5.00" fill="url(#g36)"/>
<path d="M179.5,404 C178,415 180.5,430 179,449" stroke="#2a0606" stroke-width="2.6" fill="none" filter="url(#b1)"/>
<path d="M185.3,400 C186.5,416 184.5,430 185.5,447" stroke="#420a0a" stroke-width="1.5" fill="none" filter="url(#b1)"/>
<ellipse cx="182.3" cy="407" rx="4.20" ry="5.50" fill="url(#g37)"/>
<ellipse cx="182.3" cy="420" rx="3.80" ry="6.00" fill="url(#g38)"/>
</g>
<circle cx="186" cy="439" r="0.9" fill="#f0d0d8" filter="url(#b04)"/>
<circle cx="177.8" cy="435.2" r="0.6" fill="#f0d0d8" filter="url(#b04)"/>
<circle cx="191" cy="417" r="0.5" fill="#f0d0d8" filter="url(#b04)"/>
<circle cx="186" cy="428" r="0.5" fill="#f0d0d8" filter="url(#b04)"/>
<circle cx="173" cy="409" r="0.4" fill="#f0d0d8" filter="url(#b04)"/>
<circle cx="184" cy="404" r="0.5" fill="#f0d0d8" filter="url(#b04)"/>
<text x="63" y="480" font-size="7.3" text-anchor="start" font-weight="normal" fill="#000" textLength="37.7" lengthAdjust="spacingAndGlyphs" >4175 Mock</text>
<text x="160" y="480" font-size="7.3" text-anchor="start" font-weight="normal" fill="#000" textLength="41.6" lengthAdjust="spacingAndGlyphs" >4175 HGAL</text>
<text x="263.8" y="360.3" font-size="11" text-anchor="start" font-weight="bold" fill="#000" >F</text>
<line x1="316.3" y1="352" x2="316.3" y2="476.5" stroke="#000" stroke-width="1.25"/>
<line x1="316.3" y1="473.3" x2="497" y2="473.3" stroke="#000" stroke-width="1.25"/>
<line x1="311.3" y1="473.3" x2="316.3" y2="473.3" stroke="#000" stroke-width="1"/>
<line x1="313" y1="461.7" x2="316.3" y2="461.7" stroke="#000" stroke-width="1"/>
<line x1="313" y1="450.1" x2="316.3" y2="450.1" stroke="#000" stroke-width="1"/>
<line x1="313" y1="438.6" x2="316.3" y2="438.6" stroke="#000" stroke-width="1"/>
<line x1="313" y1="427.0" x2="316.3" y2="427.0" stroke="#000" stroke-width="1"/>
<line x1="311.3" y1="415.4" x2="316.3" y2="415.4" stroke="#000" stroke-width="1"/>
<line x1="313" y1="403.8" x2="316.3" y2="403.8" stroke="#000" stroke-width="1"/>
<line x1="313" y1="392.2" x2="316.3" y2="392.2" stroke="#000" stroke-width="1"/>
<line x1="313" y1="380.7" x2="316.3" y2="380.7" stroke="#000" stroke-width="1"/>
<line x1="313" y1="369.1" x2="316.3" y2="369.1" stroke="#000" stroke-width="1"/>
<line x1="311.3" y1="357.5" x2="316.3" y2="357.5" stroke="#000" stroke-width="1"/>
<text x="308.9" y="475.85" font-size="7.6" text-anchor="end" font-weight="normal" fill="#000" textLength="4.06" lengthAdjust="spacingAndGlyphs" >0</text>
<text x="308.9" y="417.95000000000005" font-size="7.6" text-anchor="end" font-weight="normal" fill="#000" textLength="4.06" lengthAdjust="spacingAndGlyphs" >5</text>
<text x="308.9" y="360.05" font-size="7.6" text-anchor="end" font-weight="normal" fill="#000" textLength="8.12" lengthAdjust="spacingAndGlyphs" >10</text>
<line x1="316.2" y1="473.3" x2="316.2" y2="476.5" stroke="#000" stroke-width="1"/>
<text x="316.2" y="485.5" font-size="7.4" text-anchor="middle" font-weight="normal" fill="#000" textLength="3.89" lengthAdjust="spacingAndGlyphs" >1</text>
<line x1="352.5" y1="473.3" x2="352.5" y2="476.5" stroke="#000" stroke-width="1"/>
<text x="352.46" y="485.5" font-size="7.4" text-anchor="middle" font-weight="normal" fill="#000" textLength="3.89" lengthAdjust="spacingAndGlyphs" >2</text>
<line x1="388.7" y1="473.3" x2="388.7" y2="476.5" stroke="#000" stroke-width="1"/>
<text x="388.71999999999997" y="485.5" font-size="7.4" text-anchor="middle" font-weight="normal" fill="#000" textLength="3.89" lengthAdjust="spacingAndGlyphs" >3</text>
<line x1="425.0" y1="473.3" x2="425.0" y2="476.5" stroke="#000" stroke-width="1"/>
<text x="424.98" y="485.5" font-size="7.4" text-anchor="middle" font-weight="normal" fill="#000" textLength="3.89" lengthAdjust="spacingAndGlyphs" >4</text>
<line x1="461.2" y1="473.3" x2="461.2" y2="476.5" stroke="#000" stroke-width="1"/>
<text x="461.24" y="485.5" font-size="7.4" text-anchor="middle" font-weight="normal" fill="#000" textLength="3.89" lengthAdjust="spacingAndGlyphs" >5</text>
<line x1="497.5" y1="473.3" x2="497.5" y2="476.5" stroke="#000" stroke-width="1"/>
<text x="497.5" y="485.5" font-size="7.4" text-anchor="middle" font-weight="normal" fill="#000" textLength="3.89" lengthAdjust="spacingAndGlyphs" >6</text>
<text x="402" y="496.7" font-size="9.3" text-anchor="start" font-weight="normal" fill="#000" textLength="9.8" lengthAdjust="spacingAndGlyphs" style="stroke-width:0.38px">Day</text>
<text transform="translate(294,412.8) rotate(-90)" style="stroke-width:0.38px" font-size="9.6" text-anchor="middle" textLength="33.9" lengthAdjust="spacingAndGlyphs">Area (mm<tspan font-size="5.2" dy="-3.4">2</tspan><tspan dy="3.4">)</tspan></text>
<polyline points="316.2,472.6 352.5,471.4 388.7,470.2 425.0,466.3 461.2,404.6 497.5,380.0" fill="none" stroke="#cc0016" stroke-width="1.4"/>
<polyline points="316.2,471.75 352.5,470.25 388.7,468.5 425.0,464.3 461.2,385.3 497.5,359.7" fill="none" stroke="#0a32b0" stroke-width="1.4"/>
<circle cx="316.2" cy="472.6" r="3.2" fill="#cc0016"/>
<circle cx="352.5" cy="471.4" r="3.2" fill="#cc0016"/>
<circle cx="388.7" cy="470.2" r="3.2" fill="#cc0016"/>
<circle cx="425.0" cy="466.3" r="3.2" fill="#cc0016"/>
<path d="M461.2,394.8V414.4M459.0,394.8H463.4M459.0,414.4H463.4" stroke="#cc0016" stroke-width="1.1"/>
<circle cx="461.2" cy="404.6" r="3.2" fill="#cc0016"/>
<path d="M497.5,375.6V384.4M495.3,375.6H499.7M495.3,384.4H499.7" stroke="#cc0016" stroke-width="1.1"/>
<circle cx="497.5" cy="380.0" r="3.2" fill="#cc0016"/>
<circle cx="316.2" cy="471.75" r="3.2" fill="#0a32b0"/>
<circle cx="352.5" cy="470.25" r="3.2" fill="#0a32b0"/>
<circle cx="388.7" cy="468.5" r="3.2" fill="#0a32b0"/>
<circle cx="425.0" cy="464.3" r="3.2" fill="#0a32b0"/>
<path d="M461.2,379.1V391.5M459.0,379.1H463.4M459.0,391.5H463.4" stroke="#0a32b0" stroke-width="1.1"/>
<circle cx="461.2" cy="385.3" r="3.2" fill="#0a32b0"/>
<path d="M497.5,356.8V362.6M495.3,356.8H499.7M495.3,362.6H499.7" stroke="#0a32b0" stroke-width="1.1"/>
<circle cx="497.5" cy="359.7" r="3.2" fill="#0a32b0"/>
<line x1="348.9" y1="364.2" x2="362" y2="364.2" stroke="#0a32b0" stroke-width="1.3"/><circle cx="355.4" cy="364.2" r="3" fill="#0a32b0"/>
<line x1="348.9" y1="380.1" x2="362" y2="380.1" stroke="#cc0016" stroke-width="1.3"/><circle cx="355.4" cy="380.1" r="3" fill="#cc0016"/>
<text x="366.9" y="367" font-size="7.2" text-anchor="start" font-weight="normal" fill="#000" textLength="35.1" lengthAdjust="spacingAndGlyphs" >4175 Mock</text>
<text x="366.9" y="382.7" font-size="7.2" text-anchor="start" font-weight="normal" fill="#000" textLength="37.4" lengthAdjust="spacingAndGlyphs" >4175 HGAL</text>
</svg></body></html>
